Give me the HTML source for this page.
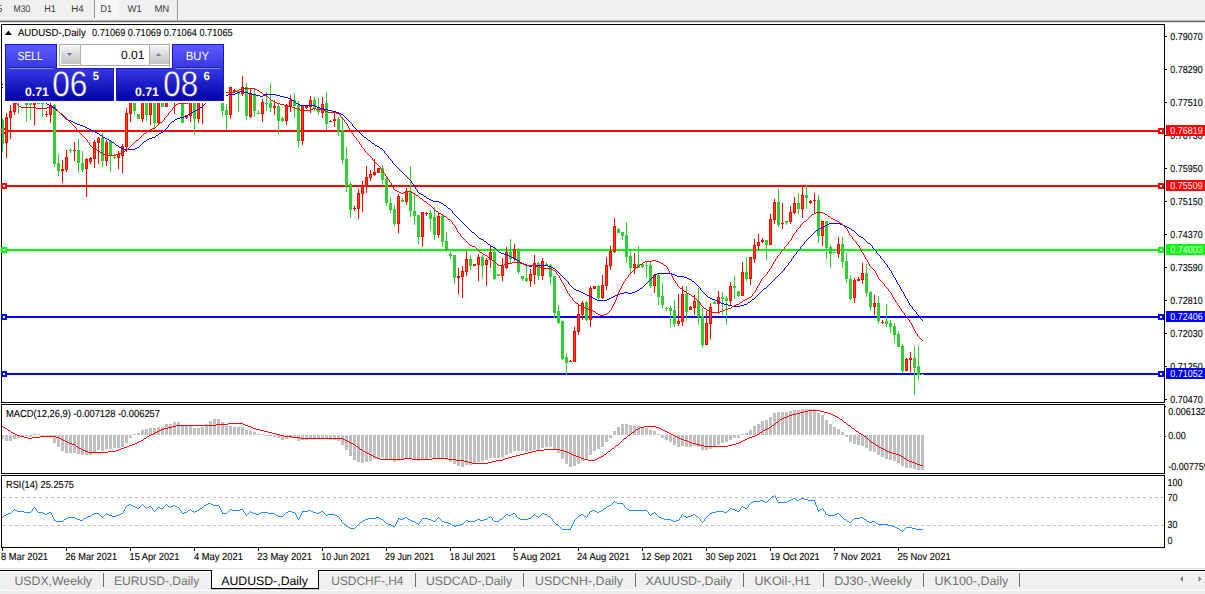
<!DOCTYPE html><html><head><meta charset="utf-8"><title>AUDUSD-,Daily</title><style>
html,body{margin:0;padding:0;background:#fff;}body{width:1205px;height:594px;overflow:hidden;position:relative;font-family:"Liberation Sans", sans-serif;}
svg{position:absolute;left:0;top:0;display:block;}text{font-family:"Liberation Sans", sans-serif;white-space:pre;text-rendering:geometricPrecision;}
</style></head><body>
<svg width="1205" height="594" viewBox="0 0 1205 594">
<defs>
<linearGradient id="gb" x1="0" y1="0" x2="0" y2="1"><stop offset="0" stop-color="#5c5cff"/><stop offset="0.45" stop-color="#3636e0"/><stop offset="1" stop-color="#0000a8"/></linearGradient>
<linearGradient id="gs" x1="0" y1="0" x2="0" y2="1"><stop offset="0" stop-color="#f4f4f4"/><stop offset="0.5" stop-color="#d8d8d8"/><stop offset="1" stop-color="#c4c4c4"/></linearGradient>
<linearGradient id="gbu" gradientUnits="userSpaceOnUse" x1="0" y1="44" x2="0" y2="101"><stop offset="0" stop-color="#5c5cff"/><stop offset="0.45" stop-color="#3636e0"/><stop offset="1" stop-color="#0000a8"/></linearGradient>
<clipPath id="cm"><rect x="2" y="25" width="1162" height="377"/></clipPath>
</defs>
<rect x="0" y="0" width="1205" height="20" fill="#f0f0f0"/>
<rect x="0" y="20" width="1205" height="1" fill="#b4b4b4"/>
<rect x="0" y="21" width="1205" height="1" fill="#707070"/>
<rect x="0" y="22" width="1205" height="1" fill="#d8d8d8"/>
<rect x="95" y="0" width="24" height="18" fill="#f6f6f6"/>
<rect x="94" y="0" width="1" height="18" fill="#8c8c8c"/>
<rect x="177" y="0" width="1" height="20" fill="#909090"/>
<rect x="178" y="0" width="1" height="20" fill="#fafafa"/>
<text x="-3.20" y="11.70" font-size="9.8" fill="#404040" textLength="5.60" lengthAdjust="spacingAndGlyphs" >5</text>
<text x="13.50" y="11.70" font-size="9.8" fill="#404040" textLength="16.80" lengthAdjust="spacingAndGlyphs" >M30</text>
<text x="44.20" y="11.70" font-size="9.8" fill="#404040" textLength="11.60" lengthAdjust="spacingAndGlyphs" >H1</text>
<text x="71.30" y="11.70" font-size="9.8" fill="#404040" textLength="12.40" lengthAdjust="spacingAndGlyphs" >H4</text>
<text x="100.60" y="11.70" font-size="9.8" fill="#404040" textLength="11.40" lengthAdjust="spacingAndGlyphs" >D1</text>
<text x="127.50" y="11.70" font-size="9.8" fill="#404040" textLength="14.30" lengthAdjust="spacingAndGlyphs" >W1</text>
<text x="154.40" y="11.70" font-size="9.8" fill="#404040" textLength="14.90" lengthAdjust="spacingAndGlyphs" >MN</text>
<g shape-rendering="crispEdges">
<rect x="1" y="24" width="1164" height="1" fill="#000"/>
<rect x="1" y="402" width="1164" height="1" fill="#000"/>
<rect x="1" y="24" width="1" height="379" fill="#000"/>
<rect x="1164" y="24" width="1" height="379" fill="#000"/>
<rect x="2" y="130" width="1162" height="2" fill="#ff0000"/>
<rect x="1" y="128" width="6" height="6" fill="#ff0000"/>
<rect x="3" y="130" width="2" height="2" fill="#fff"/>
<rect x="1158" y="128" width="6" height="6" fill="#ff0000"/>
<rect x="1160" y="130" width="2" height="2" fill="#fff"/>
<rect x="2" y="185" width="1162" height="2" fill="#ff0000"/>
<rect x="1" y="183" width="6" height="6" fill="#ff0000"/>
<rect x="3" y="185" width="2" height="2" fill="#fff"/>
<rect x="1158" y="183" width="6" height="6" fill="#ff0000"/>
<rect x="1160" y="185" width="2" height="2" fill="#fff"/>
<rect x="2" y="249" width="1162" height="2" fill="#00ff00"/>
<rect x="1" y="247" width="6" height="6" fill="#00ff00"/>
<rect x="3" y="249" width="2" height="2" fill="#fff"/>
<rect x="1158" y="247" width="6" height="6" fill="#00ff00"/>
<rect x="1160" y="249" width="2" height="2" fill="#fff"/>
<rect x="2" y="316" width="1162" height="2" fill="#0000ff"/>
<rect x="1" y="314" width="6" height="6" fill="#0000ff"/>
<rect x="3" y="316" width="2" height="2" fill="#fff"/>
<rect x="1158" y="314" width="6" height="6" fill="#0000ff"/>
<rect x="1160" y="316" width="2" height="2" fill="#fff"/>
<rect x="2" y="373" width="1162" height="2" fill="#0000ff"/>
<rect x="1" y="371" width="6" height="6" fill="#0000ff"/>
<rect x="3" y="373" width="2" height="2" fill="#fff"/>
<rect x="1158" y="371" width="6" height="6" fill="#0000ff"/>
<rect x="1160" y="373" width="2" height="2" fill="#fff"/>
<g clip-path="url(#cm)">
<rect x="2" y="118" width="1" height="34" fill="#32cd32"/>
<rect x="1" y="120" width="3" height="24" fill="#32cd32"/>
<rect x="6" y="113" width="1" height="45" fill="#ff0000"/>
<rect x="5" y="117" width="3" height="26" fill="#ff0000"/>
<rect x="6" y="118" width="1" height="24" fill="#ff4500"/>
<rect x="10" y="105" width="1" height="34" fill="#ff0000"/>
<rect x="9" y="111" width="3" height="7" fill="#ff0000"/>
<rect x="10" y="112" width="1" height="5" fill="#ff4500"/>
<rect x="14" y="90" width="1" height="25" fill="#ff0000"/>
<rect x="13" y="95" width="3" height="17" fill="#ff0000"/>
<rect x="14" y="96" width="1" height="15" fill="#ff4500"/>
<rect x="18" y="90" width="1" height="24" fill="#32cd32"/>
<rect x="17" y="92" width="3" height="7" fill="#32cd32"/>
<rect x="22" y="90" width="1" height="10" fill="#ff0000"/>
<rect x="21" y="92" width="3" height="5" fill="#ff0000"/>
<rect x="22" y="93" width="1" height="3" fill="#ff4500"/>
<rect x="26" y="95" width="1" height="27" fill="#32cd32"/>
<rect x="25" y="98" width="3" height="7" fill="#32cd32"/>
<rect x="30" y="95" width="1" height="25" fill="#32cd32"/>
<rect x="29" y="98" width="3" height="7" fill="#32cd32"/>
<rect x="34" y="95" width="1" height="30" fill="#ff0000"/>
<rect x="33" y="98" width="3" height="7" fill="#ff0000"/>
<rect x="34" y="99" width="1" height="5" fill="#ff4500"/>
<rect x="38" y="96" width="1" height="8" fill="#32cd32"/>
<rect x="37" y="99" width="3" height="5" fill="#32cd32"/>
<rect x="42" y="98" width="1" height="19" fill="#32cd32"/>
<rect x="41" y="102" width="3" height="2" fill="#32cd32"/>
<rect x="46" y="111" width="1" height="6" fill="#ff0000"/>
<rect x="45" y="114" width="3" height="1" fill="#ff0000"/>
<rect x="50" y="103" width="1" height="20" fill="#ff0000"/>
<rect x="49" y="105" width="3" height="10" fill="#ff0000"/>
<rect x="50" y="106" width="1" height="8" fill="#ff4500"/>
<rect x="54" y="104" width="1" height="63" fill="#32cd32"/>
<rect x="53" y="105" width="3" height="59" fill="#32cd32"/>
<rect x="58" y="154" width="1" height="22" fill="#32cd32"/>
<rect x="57" y="163" width="3" height="8" fill="#32cd32"/>
<rect x="62" y="160" width="1" height="23" fill="#ff0000"/>
<rect x="61" y="169" width="3" height="2" fill="#ff0000"/>
<rect x="66" y="150" width="1" height="22" fill="#ff0000"/>
<rect x="65" y="157" width="3" height="13" fill="#ff0000"/>
<rect x="66" y="158" width="1" height="11" fill="#ff4500"/>
<rect x="70" y="148" width="1" height="5" fill="#32cd32"/>
<rect x="69" y="150" width="3" height="1" fill="#32cd32"/>
<rect x="74" y="142" width="1" height="19" fill="#ff0000"/>
<rect x="73" y="150" width="3" height="1" fill="#ff0000"/>
<rect x="78" y="139" width="1" height="34" fill="#32cd32"/>
<rect x="77" y="150" width="3" height="13" fill="#32cd32"/>
<rect x="82" y="151" width="1" height="21" fill="#32cd32"/>
<rect x="81" y="163" width="3" height="7" fill="#32cd32"/>
<rect x="86" y="158" width="1" height="39" fill="#ff0000"/>
<rect x="85" y="159" width="3" height="10" fill="#ff0000"/>
<rect x="86" y="160" width="1" height="8" fill="#ff4500"/>
<rect x="90" y="157" width="1" height="7" fill="#ff0000"/>
<rect x="89" y="158" width="3" height="4" fill="#ff0000"/>
<rect x="90" y="159" width="1" height="2" fill="#ff4500"/>
<rect x="94" y="140" width="1" height="28" fill="#ff0000"/>
<rect x="93" y="142" width="3" height="17" fill="#ff0000"/>
<rect x="94" y="143" width="1" height="15" fill="#ff4500"/>
<rect x="98" y="137" width="1" height="27" fill="#ff0000"/>
<rect x="97" y="138" width="3" height="5" fill="#ff0000"/>
<rect x="98" y="139" width="1" height="3" fill="#ff4500"/>
<rect x="102" y="133" width="1" height="34" fill="#32cd32"/>
<rect x="101" y="138" width="3" height="23" fill="#32cd32"/>
<rect x="106" y="140" width="1" height="26" fill="#ff0000"/>
<rect x="105" y="142" width="3" height="19" fill="#ff0000"/>
<rect x="106" y="143" width="1" height="17" fill="#ff4500"/>
<rect x="110" y="140" width="1" height="32" fill="#32cd32"/>
<rect x="109" y="141" width="3" height="15" fill="#32cd32"/>
<rect x="114" y="154" width="1" height="5" fill="#32cd32"/>
<rect x="113" y="157" width="3" height="1" fill="#32cd32"/>
<rect x="118" y="151" width="1" height="18" fill="#ff0000"/>
<rect x="117" y="154" width="3" height="4" fill="#ff0000"/>
<rect x="118" y="155" width="1" height="2" fill="#ff4500"/>
<rect x="122" y="144" width="1" height="29" fill="#ff0000"/>
<rect x="121" y="146" width="3" height="10" fill="#ff0000"/>
<rect x="122" y="147" width="1" height="8" fill="#ff4500"/>
<rect x="126" y="108" width="1" height="44" fill="#ff0000"/>
<rect x="125" y="113" width="3" height="34" fill="#ff0000"/>
<rect x="126" y="114" width="1" height="32" fill="#ff4500"/>
<rect x="130" y="95" width="1" height="27" fill="#ff0000"/>
<rect x="129" y="97" width="3" height="17" fill="#ff0000"/>
<rect x="130" y="98" width="1" height="15" fill="#ff4500"/>
<rect x="134" y="95" width="1" height="20" fill="#32cd32"/>
<rect x="133" y="97" width="3" height="14" fill="#32cd32"/>
<rect x="138" y="114" width="1" height="5" fill="#32cd32"/>
<rect x="137" y="114" width="3" height="5" fill="#32cd32"/>
<rect x="142" y="95" width="1" height="27" fill="#ff0000"/>
<rect x="141" y="97" width="3" height="22" fill="#ff0000"/>
<rect x="142" y="98" width="1" height="20" fill="#ff4500"/>
<rect x="146" y="95" width="1" height="26" fill="#32cd32"/>
<rect x="145" y="97" width="3" height="18" fill="#32cd32"/>
<rect x="150" y="95" width="1" height="30" fill="#ff0000"/>
<rect x="149" y="97" width="3" height="18" fill="#ff0000"/>
<rect x="150" y="98" width="1" height="16" fill="#ff4500"/>
<rect x="154" y="95" width="1" height="34" fill="#32cd32"/>
<rect x="153" y="97" width="3" height="26" fill="#32cd32"/>
<rect x="158" y="95" width="1" height="29" fill="#ff0000"/>
<rect x="157" y="97" width="3" height="26" fill="#ff0000"/>
<rect x="158" y="98" width="1" height="24" fill="#ff4500"/>
<rect x="162" y="95" width="1" height="12" fill="#32cd32"/>
<rect x="161" y="97" width="3" height="10" fill="#32cd32"/>
<rect x="166" y="95" width="1" height="12" fill="#ff0000"/>
<rect x="165" y="97" width="3" height="10" fill="#ff0000"/>
<rect x="166" y="98" width="1" height="8" fill="#ff4500"/>
<rect x="170" y="95" width="1" height="5" fill="#32cd32"/>
<rect x="169" y="96" width="3" height="3" fill="#32cd32"/>
<rect x="174" y="95" width="1" height="19" fill="#ff0000"/>
<rect x="173" y="96" width="3" height="2" fill="#ff0000"/>
<rect x="178" y="95" width="1" height="5" fill="#32cd32"/>
<rect x="177" y="96" width="3" height="3" fill="#32cd32"/>
<rect x="182" y="95" width="1" height="28" fill="#32cd32"/>
<rect x="181" y="97" width="3" height="26" fill="#32cd32"/>
<rect x="186" y="115" width="1" height="4" fill="#ff0000"/>
<rect x="185" y="115" width="3" height="3" fill="#ff0000"/>
<rect x="186" y="116" width="1" height="1" fill="#ff4500"/>
<rect x="190" y="95" width="1" height="27" fill="#ff0000"/>
<rect x="189" y="97" width="3" height="19" fill="#ff0000"/>
<rect x="190" y="98" width="1" height="17" fill="#ff4500"/>
<rect x="194" y="95" width="1" height="40" fill="#32cd32"/>
<rect x="193" y="97" width="3" height="22" fill="#32cd32"/>
<rect x="198" y="95" width="1" height="28" fill="#ff0000"/>
<rect x="197" y="97" width="3" height="22" fill="#ff0000"/>
<rect x="198" y="98" width="1" height="20" fill="#ff4500"/>
<rect x="202" y="95" width="1" height="29" fill="#ff0000"/>
<rect x="201" y="96" width="3" height="2" fill="#ff0000"/>
<rect x="206" y="90" width="1" height="10" fill="#32cd32"/>
<rect x="205" y="92" width="3" height="6" fill="#32cd32"/>
<rect x="210" y="90" width="1" height="10" fill="#ff0000"/>
<rect x="209" y="92" width="3" height="6" fill="#ff0000"/>
<rect x="210" y="93" width="1" height="4" fill="#ff4500"/>
<rect x="214" y="90" width="1" height="10" fill="#32cd32"/>
<rect x="213" y="92" width="3" height="6" fill="#32cd32"/>
<rect x="218" y="90" width="1" height="10" fill="#32cd32"/>
<rect x="217" y="92" width="3" height="6" fill="#32cd32"/>
<rect x="222" y="101" width="1" height="16" fill="#32cd32"/>
<rect x="221" y="103" width="3" height="8" fill="#32cd32"/>
<rect x="226" y="104" width="1" height="26" fill="#32cd32"/>
<rect x="225" y="110" width="3" height="5" fill="#32cd32"/>
<rect x="230" y="87" width="1" height="32" fill="#ff0000"/>
<rect x="229" y="87" width="3" height="28" fill="#ff0000"/>
<rect x="230" y="88" width="1" height="26" fill="#ff4500"/>
<rect x="234" y="89" width="1" height="3" fill="#ff0000"/>
<rect x="233" y="90" width="3" height="2" fill="#ff0000"/>
<rect x="238" y="90" width="1" height="22" fill="#32cd32"/>
<rect x="237" y="91" width="3" height="3" fill="#32cd32"/>
<rect x="242" y="76" width="1" height="20" fill="#ff0000"/>
<rect x="241" y="87" width="3" height="7" fill="#ff0000"/>
<rect x="242" y="88" width="1" height="5" fill="#ff4500"/>
<rect x="246" y="83" width="1" height="37" fill="#32cd32"/>
<rect x="245" y="87" width="3" height="29" fill="#32cd32"/>
<rect x="250" y="88" width="1" height="30" fill="#ff0000"/>
<rect x="249" y="94" width="3" height="23" fill="#ff0000"/>
<rect x="250" y="95" width="1" height="21" fill="#ff4500"/>
<rect x="254" y="89" width="1" height="28" fill="#32cd32"/>
<rect x="253" y="94" width="3" height="17" fill="#32cd32"/>
<rect x="258" y="110" width="1" height="4" fill="#32cd32"/>
<rect x="257" y="113" width="3" height="1" fill="#32cd32"/>
<rect x="262" y="99" width="1" height="23" fill="#ff0000"/>
<rect x="261" y="102" width="3" height="12" fill="#ff0000"/>
<rect x="262" y="103" width="1" height="10" fill="#ff4500"/>
<rect x="266" y="92" width="1" height="19" fill="#32cd32"/>
<rect x="265" y="103" width="3" height="1" fill="#32cd32"/>
<rect x="270" y="83" width="1" height="29" fill="#32cd32"/>
<rect x="269" y="103" width="3" height="5" fill="#32cd32"/>
<rect x="274" y="100" width="1" height="15" fill="#ff0000"/>
<rect x="273" y="106" width="3" height="2" fill="#ff0000"/>
<rect x="278" y="104" width="1" height="30" fill="#32cd32"/>
<rect x="277" y="106" width="3" height="15" fill="#32cd32"/>
<rect x="282" y="117" width="1" height="5" fill="#32cd32"/>
<rect x="281" y="118" width="3" height="3" fill="#32cd32"/>
<rect x="286" y="104" width="1" height="21" fill="#ff0000"/>
<rect x="285" y="105" width="3" height="16" fill="#ff0000"/>
<rect x="286" y="106" width="1" height="14" fill="#ff4500"/>
<rect x="290" y="95" width="1" height="17" fill="#ff0000"/>
<rect x="289" y="100" width="3" height="7" fill="#ff0000"/>
<rect x="290" y="101" width="1" height="5" fill="#ff4500"/>
<rect x="294" y="93" width="1" height="25" fill="#32cd32"/>
<rect x="293" y="100" width="3" height="6" fill="#32cd32"/>
<rect x="298" y="101" width="1" height="47" fill="#32cd32"/>
<rect x="297" y="105" width="3" height="36" fill="#32cd32"/>
<rect x="302" y="105" width="1" height="40" fill="#ff0000"/>
<rect x="301" y="105" width="3" height="36" fill="#ff0000"/>
<rect x="302" y="106" width="1" height="34" fill="#ff4500"/>
<rect x="306" y="106" width="1" height="3" fill="#ff0000"/>
<rect x="305" y="106" width="3" height="2" fill="#ff0000"/>
<rect x="310" y="96" width="1" height="17" fill="#ff0000"/>
<rect x="309" y="100" width="3" height="7" fill="#ff0000"/>
<rect x="310" y="101" width="1" height="5" fill="#ff4500"/>
<rect x="314" y="97" width="1" height="14" fill="#32cd32"/>
<rect x="313" y="100" width="3" height="9" fill="#32cd32"/>
<rect x="318" y="98" width="1" height="17" fill="#32cd32"/>
<rect x="317" y="108" width="3" height="4" fill="#32cd32"/>
<rect x="322" y="97" width="1" height="21" fill="#ff0000"/>
<rect x="321" y="104" width="3" height="9" fill="#ff0000"/>
<rect x="322" y="105" width="1" height="7" fill="#ff4500"/>
<rect x="326" y="92" width="1" height="38" fill="#32cd32"/>
<rect x="325" y="103" width="3" height="21" fill="#32cd32"/>
<rect x="330" y="120" width="1" height="2" fill="#ff0000"/>
<rect x="329" y="121" width="3" height="1" fill="#ff0000"/>
<rect x="334" y="112" width="1" height="15" fill="#ff0000"/>
<rect x="333" y="119" width="3" height="2" fill="#ff0000"/>
<rect x="338" y="117" width="1" height="19" fill="#32cd32"/>
<rect x="337" y="119" width="3" height="12" fill="#32cd32"/>
<rect x="342" y="117" width="1" height="47" fill="#32cd32"/>
<rect x="341" y="130" width="3" height="30" fill="#32cd32"/>
<rect x="346" y="147" width="1" height="45" fill="#32cd32"/>
<rect x="345" y="159" width="3" height="27" fill="#32cd32"/>
<rect x="350" y="182" width="1" height="36" fill="#32cd32"/>
<rect x="349" y="184" width="3" height="26" fill="#32cd32"/>
<rect x="354" y="206" width="1" height="5" fill="#ff0000"/>
<rect x="353" y="208" width="3" height="1" fill="#ff0000"/>
<rect x="358" y="189" width="1" height="30" fill="#ff0000"/>
<rect x="357" y="193" width="3" height="16" fill="#ff0000"/>
<rect x="358" y="194" width="1" height="14" fill="#ff4500"/>
<rect x="362" y="181" width="1" height="31" fill="#ff0000"/>
<rect x="361" y="186" width="3" height="8" fill="#ff0000"/>
<rect x="362" y="187" width="1" height="6" fill="#ff4500"/>
<rect x="366" y="166" width="1" height="27" fill="#ff0000"/>
<rect x="365" y="177" width="3" height="9" fill="#ff0000"/>
<rect x="366" y="178" width="1" height="7" fill="#ff4500"/>
<rect x="370" y="170" width="1" height="11" fill="#ff0000"/>
<rect x="369" y="174" width="3" height="4" fill="#ff0000"/>
<rect x="370" y="175" width="1" height="2" fill="#ff4500"/>
<rect x="374" y="159" width="1" height="17" fill="#ff0000"/>
<rect x="373" y="172" width="3" height="3" fill="#ff0000"/>
<rect x="374" y="173" width="1" height="1" fill="#ff4500"/>
<rect x="378" y="168" width="1" height="5" fill="#ff0000"/>
<rect x="377" y="168" width="3" height="5" fill="#ff0000"/>
<rect x="378" y="169" width="1" height="3" fill="#ff4500"/>
<rect x="382" y="165" width="1" height="21" fill="#32cd32"/>
<rect x="381" y="168" width="3" height="12" fill="#32cd32"/>
<rect x="386" y="177" width="1" height="29" fill="#32cd32"/>
<rect x="385" y="179" width="3" height="24" fill="#32cd32"/>
<rect x="390" y="197" width="1" height="16" fill="#32cd32"/>
<rect x="389" y="203" width="3" height="7" fill="#32cd32"/>
<rect x="394" y="205" width="1" height="21" fill="#32cd32"/>
<rect x="393" y="209" width="3" height="15" fill="#32cd32"/>
<rect x="398" y="194" width="1" height="39" fill="#ff0000"/>
<rect x="397" y="196" width="3" height="28" fill="#ff0000"/>
<rect x="398" y="197" width="1" height="26" fill="#ff4500"/>
<rect x="402" y="198" width="1" height="4" fill="#32cd32"/>
<rect x="401" y="200" width="3" height="2" fill="#32cd32"/>
<rect x="406" y="188" width="1" height="17" fill="#ff0000"/>
<rect x="405" y="191" width="3" height="11" fill="#ff0000"/>
<rect x="406" y="192" width="1" height="9" fill="#ff4500"/>
<rect x="410" y="166" width="1" height="51" fill="#32cd32"/>
<rect x="409" y="191" width="3" height="20" fill="#32cd32"/>
<rect x="414" y="194" width="1" height="31" fill="#32cd32"/>
<rect x="413" y="211" width="3" height="5" fill="#32cd32"/>
<rect x="418" y="215" width="1" height="29" fill="#32cd32"/>
<rect x="417" y="215" width="3" height="22" fill="#32cd32"/>
<rect x="422" y="212" width="1" height="35" fill="#ff0000"/>
<rect x="421" y="212" width="3" height="25" fill="#ff0000"/>
<rect x="422" y="213" width="1" height="23" fill="#ff4500"/>
<rect x="426" y="212" width="1" height="4" fill="#ff0000"/>
<rect x="425" y="213" width="3" height="1" fill="#ff0000"/>
<rect x="430" y="210" width="1" height="21" fill="#32cd32"/>
<rect x="429" y="213" width="3" height="6" fill="#32cd32"/>
<rect x="434" y="207" width="1" height="33" fill="#32cd32"/>
<rect x="433" y="217" width="3" height="18" fill="#32cd32"/>
<rect x="438" y="213" width="1" height="25" fill="#ff0000"/>
<rect x="437" y="216" width="3" height="19" fill="#ff0000"/>
<rect x="438" y="217" width="1" height="17" fill="#ff4500"/>
<rect x="442" y="215" width="1" height="32" fill="#32cd32"/>
<rect x="441" y="216" width="3" height="26" fill="#32cd32"/>
<rect x="446" y="232" width="1" height="20" fill="#32cd32"/>
<rect x="445" y="241" width="3" height="10" fill="#32cd32"/>
<rect x="450" y="252" width="1" height="7" fill="#32cd32"/>
<rect x="449" y="254" width="3" height="2" fill="#32cd32"/>
<rect x="454" y="255" width="1" height="29" fill="#32cd32"/>
<rect x="453" y="255" width="3" height="23" fill="#32cd32"/>
<rect x="458" y="268" width="1" height="26" fill="#ff0000"/>
<rect x="457" y="276" width="3" height="2" fill="#ff0000"/>
<rect x="462" y="266" width="1" height="32" fill="#ff0000"/>
<rect x="461" y="271" width="3" height="6" fill="#ff0000"/>
<rect x="462" y="272" width="1" height="4" fill="#ff4500"/>
<rect x="466" y="251" width="1" height="25" fill="#ff0000"/>
<rect x="465" y="259" width="3" height="13" fill="#ff0000"/>
<rect x="466" y="260" width="1" height="11" fill="#ff4500"/>
<rect x="470" y="255" width="1" height="15" fill="#32cd32"/>
<rect x="469" y="259" width="3" height="7" fill="#32cd32"/>
<rect x="474" y="264" width="1" height="2" fill="#ff0000"/>
<rect x="473" y="264" width="3" height="2" fill="#ff0000"/>
<rect x="478" y="254" width="1" height="27" fill="#ff0000"/>
<rect x="477" y="257" width="3" height="8" fill="#ff0000"/>
<rect x="478" y="258" width="1" height="6" fill="#ff4500"/>
<rect x="482" y="255" width="1" height="23" fill="#32cd32"/>
<rect x="481" y="257" width="3" height="9" fill="#32cd32"/>
<rect x="486" y="258" width="1" height="28" fill="#ff0000"/>
<rect x="485" y="260" width="3" height="5" fill="#ff0000"/>
<rect x="486" y="261" width="1" height="3" fill="#ff4500"/>
<rect x="490" y="245" width="1" height="23" fill="#ff0000"/>
<rect x="489" y="252" width="3" height="8" fill="#ff0000"/>
<rect x="490" y="253" width="1" height="6" fill="#ff4500"/>
<rect x="494" y="248" width="1" height="32" fill="#32cd32"/>
<rect x="493" y="252" width="3" height="27" fill="#32cd32"/>
<rect x="498" y="274" width="1" height="2" fill="#32cd32"/>
<rect x="497" y="274" width="3" height="2" fill="#32cd32"/>
<rect x="502" y="258" width="1" height="23" fill="#ff0000"/>
<rect x="501" y="266" width="3" height="10" fill="#ff0000"/>
<rect x="502" y="267" width="1" height="8" fill="#ff4500"/>
<rect x="506" y="247" width="1" height="22" fill="#ff0000"/>
<rect x="505" y="252" width="3" height="16" fill="#ff0000"/>
<rect x="506" y="253" width="1" height="14" fill="#ff4500"/>
<rect x="510" y="239" width="1" height="25" fill="#32cd32"/>
<rect x="509" y="252" width="3" height="7" fill="#32cd32"/>
<rect x="514" y="244" width="1" height="17" fill="#ff0000"/>
<rect x="513" y="249" width="3" height="10" fill="#ff0000"/>
<rect x="514" y="250" width="1" height="8" fill="#ff4500"/>
<rect x="518" y="248" width="1" height="26" fill="#32cd32"/>
<rect x="517" y="249" width="3" height="23" fill="#32cd32"/>
<rect x="522" y="276" width="1" height="5" fill="#32cd32"/>
<rect x="521" y="276" width="3" height="3" fill="#32cd32"/>
<rect x="526" y="266" width="1" height="16" fill="#32cd32"/>
<rect x="525" y="278" width="3" height="3" fill="#32cd32"/>
<rect x="530" y="269" width="1" height="18" fill="#ff0000"/>
<rect x="529" y="274" width="3" height="7" fill="#ff0000"/>
<rect x="530" y="275" width="1" height="5" fill="#ff4500"/>
<rect x="534" y="255" width="1" height="29" fill="#ff0000"/>
<rect x="533" y="263" width="3" height="12" fill="#ff0000"/>
<rect x="534" y="264" width="1" height="10" fill="#ff4500"/>
<rect x="538" y="262" width="1" height="18" fill="#32cd32"/>
<rect x="537" y="263" width="3" height="13" fill="#32cd32"/>
<rect x="542" y="258" width="1" height="22" fill="#ff0000"/>
<rect x="541" y="261" width="3" height="15" fill="#ff0000"/>
<rect x="542" y="262" width="1" height="13" fill="#ff4500"/>
<rect x="546" y="262" width="1" height="4" fill="#32cd32"/>
<rect x="545" y="264" width="3" height="2" fill="#32cd32"/>
<rect x="550" y="264" width="1" height="21" fill="#32cd32"/>
<rect x="549" y="265" width="3" height="12" fill="#32cd32"/>
<rect x="554" y="276" width="1" height="42" fill="#32cd32"/>
<rect x="553" y="276" width="3" height="37" fill="#32cd32"/>
<rect x="558" y="305" width="1" height="19" fill="#32cd32"/>
<rect x="557" y="311" width="3" height="12" fill="#32cd32"/>
<rect x="562" y="321" width="1" height="39" fill="#32cd32"/>
<rect x="561" y="321" width="3" height="38" fill="#32cd32"/>
<rect x="566" y="353" width="1" height="22" fill="#32cd32"/>
<rect x="565" y="357" width="3" height="6" fill="#32cd32"/>
<rect x="570" y="360" width="1" height="2" fill="#ff0000"/>
<rect x="569" y="361" width="3" height="1" fill="#ff0000"/>
<rect x="574" y="327" width="1" height="35" fill="#ff0000"/>
<rect x="573" y="331" width="3" height="31" fill="#ff0000"/>
<rect x="574" y="332" width="1" height="29" fill="#ff4500"/>
<rect x="578" y="304" width="1" height="31" fill="#ff0000"/>
<rect x="577" y="314" width="3" height="18" fill="#ff0000"/>
<rect x="578" y="315" width="1" height="16" fill="#ff4500"/>
<rect x="582" y="301" width="1" height="19" fill="#ff0000"/>
<rect x="581" y="303" width="3" height="12" fill="#ff0000"/>
<rect x="582" y="304" width="1" height="10" fill="#ff4500"/>
<rect x="586" y="301" width="1" height="20" fill="#32cd32"/>
<rect x="585" y="302" width="3" height="18" fill="#32cd32"/>
<rect x="590" y="286" width="1" height="41" fill="#ff0000"/>
<rect x="589" y="288" width="3" height="32" fill="#ff0000"/>
<rect x="590" y="289" width="1" height="30" fill="#ff4500"/>
<rect x="594" y="286" width="1" height="3" fill="#ff0000"/>
<rect x="593" y="286" width="3" height="3" fill="#ff0000"/>
<rect x="594" y="287" width="1" height="1" fill="#ff4500"/>
<rect x="598" y="285" width="1" height="15" fill="#32cd32"/>
<rect x="597" y="286" width="3" height="12" fill="#32cd32"/>
<rect x="602" y="275" width="1" height="24" fill="#ff0000"/>
<rect x="601" y="285" width="3" height="13" fill="#ff0000"/>
<rect x="602" y="286" width="1" height="11" fill="#ff4500"/>
<rect x="606" y="257" width="1" height="33" fill="#ff0000"/>
<rect x="605" y="265" width="3" height="21" fill="#ff0000"/>
<rect x="606" y="266" width="1" height="19" fill="#ff4500"/>
<rect x="610" y="246" width="1" height="24" fill="#ff0000"/>
<rect x="609" y="251" width="3" height="15" fill="#ff0000"/>
<rect x="610" y="252" width="1" height="13" fill="#ff4500"/>
<rect x="614" y="218" width="1" height="35" fill="#ff0000"/>
<rect x="613" y="226" width="3" height="26" fill="#ff0000"/>
<rect x="614" y="227" width="1" height="24" fill="#ff4500"/>
<rect x="618" y="228" width="1" height="5" fill="#32cd32"/>
<rect x="617" y="229" width="3" height="4" fill="#32cd32"/>
<rect x="622" y="232" width="1" height="8" fill="#32cd32"/>
<rect x="621" y="232" width="3" height="4" fill="#32cd32"/>
<rect x="626" y="222" width="1" height="41" fill="#32cd32"/>
<rect x="625" y="235" width="3" height="22" fill="#32cd32"/>
<rect x="630" y="249" width="1" height="26" fill="#32cd32"/>
<rect x="629" y="256" width="3" height="12" fill="#32cd32"/>
<rect x="634" y="253" width="1" height="21" fill="#ff0000"/>
<rect x="633" y="264" width="3" height="4" fill="#ff0000"/>
<rect x="634" y="265" width="1" height="2" fill="#ff4500"/>
<rect x="638" y="246" width="1" height="22" fill="#32cd32"/>
<rect x="637" y="264" width="3" height="4" fill="#32cd32"/>
<rect x="642" y="264" width="1" height="4" fill="#32cd32"/>
<rect x="641" y="264" width="3" height="3" fill="#32cd32"/>
<rect x="646" y="261" width="1" height="17" fill="#32cd32"/>
<rect x="645" y="265" width="3" height="1" fill="#32cd32"/>
<rect x="650" y="262" width="1" height="26" fill="#32cd32"/>
<rect x="649" y="265" width="3" height="21" fill="#32cd32"/>
<rect x="654" y="274" width="1" height="19" fill="#ff0000"/>
<rect x="653" y="275" width="3" height="11" fill="#ff0000"/>
<rect x="654" y="276" width="1" height="9" fill="#ff4500"/>
<rect x="658" y="273" width="1" height="32" fill="#32cd32"/>
<rect x="657" y="275" width="3" height="22" fill="#32cd32"/>
<rect x="662" y="283" width="1" height="25" fill="#32cd32"/>
<rect x="661" y="296" width="3" height="9" fill="#32cd32"/>
<rect x="666" y="307" width="1" height="4" fill="#32cd32"/>
<rect x="665" y="308" width="3" height="1" fill="#32cd32"/>
<rect x="670" y="306" width="1" height="21" fill="#32cd32"/>
<rect x="669" y="308" width="3" height="3" fill="#32cd32"/>
<rect x="674" y="300" width="1" height="27" fill="#32cd32"/>
<rect x="673" y="310" width="3" height="14" fill="#32cd32"/>
<rect x="678" y="294" width="1" height="32" fill="#ff0000"/>
<rect x="677" y="321" width="3" height="3" fill="#ff0000"/>
<rect x="678" y="322" width="1" height="1" fill="#ff4500"/>
<rect x="682" y="286" width="1" height="40" fill="#ff0000"/>
<rect x="681" y="294" width="3" height="28" fill="#ff0000"/>
<rect x="682" y="295" width="1" height="26" fill="#ff4500"/>
<rect x="686" y="286" width="1" height="35" fill="#32cd32"/>
<rect x="685" y="294" width="3" height="18" fill="#32cd32"/>
<rect x="690" y="306" width="1" height="4" fill="#ff0000"/>
<rect x="689" y="307" width="3" height="3" fill="#ff0000"/>
<rect x="690" y="308" width="1" height="1" fill="#ff4500"/>
<rect x="694" y="295" width="1" height="20" fill="#ff0000"/>
<rect x="693" y="301" width="3" height="7" fill="#ff0000"/>
<rect x="694" y="302" width="1" height="5" fill="#ff4500"/>
<rect x="698" y="288" width="1" height="37" fill="#32cd32"/>
<rect x="697" y="301" width="3" height="16" fill="#32cd32"/>
<rect x="702" y="308" width="1" height="40" fill="#32cd32"/>
<rect x="701" y="316" width="3" height="29" fill="#32cd32"/>
<rect x="706" y="311" width="1" height="34" fill="#ff0000"/>
<rect x="705" y="323" width="3" height="22" fill="#ff0000"/>
<rect x="706" y="324" width="1" height="20" fill="#ff4500"/>
<rect x="710" y="303" width="1" height="36" fill="#ff0000"/>
<rect x="709" y="307" width="3" height="17" fill="#ff0000"/>
<rect x="710" y="308" width="1" height="15" fill="#ff4500"/>
<rect x="714" y="301" width="1" height="3" fill="#32cd32"/>
<rect x="713" y="302" width="3" height="2" fill="#32cd32"/>
<rect x="718" y="291" width="1" height="23" fill="#ff0000"/>
<rect x="717" y="297" width="3" height="7" fill="#ff0000"/>
<rect x="718" y="298" width="1" height="5" fill="#ff4500"/>
<rect x="722" y="292" width="1" height="23" fill="#32cd32"/>
<rect x="721" y="297" width="3" height="2" fill="#32cd32"/>
<rect x="726" y="296" width="1" height="29" fill="#32cd32"/>
<rect x="725" y="298" width="3" height="3" fill="#32cd32"/>
<rect x="730" y="282" width="1" height="24" fill="#ff0000"/>
<rect x="729" y="286" width="3" height="15" fill="#ff0000"/>
<rect x="730" y="287" width="1" height="13" fill="#ff4500"/>
<rect x="734" y="276" width="1" height="23" fill="#32cd32"/>
<rect x="733" y="286" width="3" height="2" fill="#32cd32"/>
<rect x="738" y="291" width="1" height="6" fill="#32cd32"/>
<rect x="737" y="291" width="3" height="5" fill="#32cd32"/>
<rect x="742" y="262" width="1" height="34" fill="#ff0000"/>
<rect x="741" y="272" width="3" height="24" fill="#ff0000"/>
<rect x="742" y="273" width="1" height="22" fill="#ff4500"/>
<rect x="746" y="257" width="1" height="24" fill="#32cd32"/>
<rect x="745" y="272" width="3" height="7" fill="#32cd32"/>
<rect x="750" y="257" width="1" height="28" fill="#ff0000"/>
<rect x="749" y="257" width="3" height="22" fill="#ff0000"/>
<rect x="750" y="258" width="1" height="20" fill="#ff4500"/>
<rect x="754" y="239" width="1" height="24" fill="#ff0000"/>
<rect x="753" y="245" width="3" height="14" fill="#ff0000"/>
<rect x="754" y="246" width="1" height="12" fill="#ff4500"/>
<rect x="758" y="234" width="1" height="16" fill="#ff0000"/>
<rect x="757" y="242" width="3" height="4" fill="#ff0000"/>
<rect x="758" y="243" width="1" height="2" fill="#ff4500"/>
<rect x="762" y="238" width="1" height="5" fill="#ff0000"/>
<rect x="761" y="240" width="3" height="2" fill="#ff0000"/>
<rect x="766" y="240" width="1" height="20" fill="#32cd32"/>
<rect x="765" y="240" width="3" height="5" fill="#32cd32"/>
<rect x="770" y="214" width="1" height="31" fill="#ff0000"/>
<rect x="769" y="219" width="3" height="26" fill="#ff0000"/>
<rect x="770" y="220" width="1" height="24" fill="#ff4500"/>
<rect x="774" y="199" width="1" height="25" fill="#ff0000"/>
<rect x="773" y="202" width="3" height="18" fill="#ff0000"/>
<rect x="774" y="203" width="1" height="16" fill="#ff4500"/>
<rect x="778" y="189" width="1" height="38" fill="#32cd32"/>
<rect x="777" y="202" width="3" height="23" fill="#32cd32"/>
<rect x="782" y="203" width="1" height="26" fill="#ff0000"/>
<rect x="781" y="223" width="3" height="1" fill="#ff0000"/>
<rect x="786" y="221" width="1" height="4" fill="#32cd32"/>
<rect x="785" y="221" width="3" height="2" fill="#32cd32"/>
<rect x="790" y="206" width="1" height="18" fill="#ff0000"/>
<rect x="789" y="212" width="3" height="10" fill="#ff0000"/>
<rect x="790" y="213" width="1" height="8" fill="#ff4500"/>
<rect x="794" y="197" width="1" height="17" fill="#ff0000"/>
<rect x="793" y="203" width="3" height="10" fill="#ff0000"/>
<rect x="794" y="204" width="1" height="8" fill="#ff4500"/>
<rect x="798" y="193" width="1" height="21" fill="#32cd32"/>
<rect x="797" y="203" width="3" height="6" fill="#32cd32"/>
<rect x="802" y="186" width="1" height="32" fill="#ff0000"/>
<rect x="801" y="195" width="3" height="14" fill="#ff0000"/>
<rect x="802" y="196" width="1" height="12" fill="#ff4500"/>
<rect x="806" y="185" width="1" height="24" fill="#32cd32"/>
<rect x="805" y="195" width="3" height="3" fill="#32cd32"/>
<rect x="810" y="200" width="1" height="4" fill="#ff0000"/>
<rect x="809" y="201" width="3" height="2" fill="#ff0000"/>
<rect x="814" y="193" width="1" height="21" fill="#ff0000"/>
<rect x="813" y="200" width="3" height="1" fill="#ff0000"/>
<rect x="818" y="195" width="1" height="48" fill="#32cd32"/>
<rect x="817" y="200" width="3" height="36" fill="#32cd32"/>
<rect x="822" y="221" width="1" height="25" fill="#ff0000"/>
<rect x="821" y="221" width="3" height="15" fill="#ff0000"/>
<rect x="822" y="222" width="1" height="13" fill="#ff4500"/>
<rect x="826" y="221" width="1" height="38" fill="#32cd32"/>
<rect x="825" y="221" width="3" height="27" fill="#32cd32"/>
<rect x="830" y="245" width="1" height="23" fill="#32cd32"/>
<rect x="829" y="247" width="3" height="7" fill="#32cd32"/>
<rect x="834" y="250" width="1" height="3" fill="#32cd32"/>
<rect x="833" y="252" width="3" height="1" fill="#32cd32"/>
<rect x="838" y="237" width="1" height="21" fill="#ff0000"/>
<rect x="837" y="244" width="3" height="10" fill="#ff0000"/>
<rect x="838" y="245" width="1" height="8" fill="#ff4500"/>
<rect x="842" y="237" width="1" height="31" fill="#32cd32"/>
<rect x="841" y="244" width="3" height="18" fill="#32cd32"/>
<rect x="846" y="253" width="1" height="30" fill="#32cd32"/>
<rect x="845" y="261" width="3" height="18" fill="#32cd32"/>
<rect x="850" y="275" width="1" height="25" fill="#32cd32"/>
<rect x="849" y="279" width="3" height="20" fill="#32cd32"/>
<rect x="854" y="278" width="1" height="25" fill="#ff0000"/>
<rect x="853" y="280" width="3" height="18" fill="#ff0000"/>
<rect x="854" y="281" width="1" height="16" fill="#ff4500"/>
<rect x="858" y="277" width="1" height="4" fill="#ff0000"/>
<rect x="857" y="279" width="3" height="2" fill="#ff0000"/>
<rect x="862" y="263" width="1" height="21" fill="#ff0000"/>
<rect x="861" y="273" width="3" height="7" fill="#ff0000"/>
<rect x="862" y="274" width="1" height="5" fill="#ff4500"/>
<rect x="866" y="264" width="1" height="33" fill="#32cd32"/>
<rect x="865" y="273" width="3" height="20" fill="#32cd32"/>
<rect x="870" y="291" width="1" height="20" fill="#32cd32"/>
<rect x="869" y="292" width="3" height="15" fill="#32cd32"/>
<rect x="874" y="295" width="1" height="20" fill="#ff0000"/>
<rect x="873" y="303" width="3" height="4" fill="#ff0000"/>
<rect x="874" y="304" width="1" height="2" fill="#ff4500"/>
<rect x="878" y="296" width="1" height="28" fill="#32cd32"/>
<rect x="877" y="303" width="3" height="18" fill="#32cd32"/>
<rect x="882" y="320" width="1" height="4" fill="#ff0000"/>
<rect x="881" y="322" width="3" height="1" fill="#ff0000"/>
<rect x="886" y="304" width="1" height="23" fill="#32cd32"/>
<rect x="885" y="321" width="3" height="3" fill="#32cd32"/>
<rect x="890" y="320" width="1" height="13" fill="#32cd32"/>
<rect x="889" y="323" width="3" height="4" fill="#32cd32"/>
<rect x="894" y="323" width="1" height="20" fill="#32cd32"/>
<rect x="893" y="326" width="3" height="9" fill="#32cd32"/>
<rect x="898" y="331" width="1" height="16" fill="#32cd32"/>
<rect x="897" y="334" width="3" height="13" fill="#32cd32"/>
<rect x="902" y="344" width="1" height="29" fill="#32cd32"/>
<rect x="901" y="346" width="3" height="25" fill="#32cd32"/>
<rect x="906" y="358" width="1" height="13" fill="#ff0000"/>
<rect x="905" y="359" width="3" height="12" fill="#ff0000"/>
<rect x="906" y="360" width="1" height="10" fill="#ff4500"/>
<rect x="910" y="352" width="1" height="20" fill="#ff0000"/>
<rect x="909" y="358" width="3" height="2" fill="#ff0000"/>
<rect x="914" y="347" width="1" height="48" fill="#32cd32"/>
<rect x="913" y="358" width="3" height="10" fill="#32cd32"/>
<rect x="918" y="346" width="1" height="34" fill="#32cd32"/>
<rect x="917" y="366" width="3" height="9" fill="#32cd32"/>
<rect x="922" y="374" width="1" height="1" fill="#32cd32"/>
<rect x="921" y="374" width="3" height="1" fill="#32cd32"/>
<path fill="#0000ff" d="M372 143h2v1h-2zM32 97h4v1h-4zM215 97h2v1h-2zM284 97h4v1h-4zM732 306h8v1h-8zM193 111h2v1h-2zM332 111h4v1h-4zM721 303h3v1h-3zM657 273h15v1h-15zM296 103h2v1h-2zM509 256h2v1h-2zM527 265h2v1h-2zM532 265h16v1h-16zM17 92h3v1h-3zM237 92h3v1h-3zM244 92h4v1h-4zM597 300h10v1h-10zM715 300h2v1h-2zM180 117h4v1h-4zM36 98h3v1h-3zM212 98h3v1h-3zM288 98h3v1h-3zM829 223h11v1h-11zM728 305h4v1h-4zM740 305h4v1h-4zM431 200h2v1h-2zM677 276h7v1h-7zM493 247h2v1h-2zM816 230h2v1h-2zM852 230h2v1h-2zM595 299h2v1h-2zM607 299h2v1h-2zM712 299h3v1h-3zM752 299h2v1h-2zM587 295h2v1h-2zM615 295h2v1h-2zM529 266h3v1h-3zM548 266h3v1h-3zM640 288h2v1h-2zM764 288h2v1h-2zM591 297h2v1h-2zM611 297h2v1h-2zM708 297h2v1h-2zM103 137h2v1h-2zM152 137h3v1h-3zM364 137h2v1h-2zM579 291h2v1h-2zM635 291h2v1h-2zM39 99h2v1h-2zM210 99h2v1h-2zM583 293h2v1h-2zM620 293h4v1h-4zM628 293h4v1h-4zM91 130h2v1h-2zM522 263h2v1h-2zM24 94h3v1h-3zM228 94h7v1h-7zM252 94h4v1h-4zM265 94h11v1h-11zM191 112h2v1h-2zM336 112h3v1h-3zM825 225h2v1h-2zM843 225h2v1h-2zM448 208h2v1h-2zM109 140h2v1h-2zM368 140h2v1h-2zM427 198h2v1h-2zM53 107h2v1h-2zM200 107h2v1h-2zM317 107h3v1h-3zM124 149h11v1h-11zM73 122h2v1h-2zM29 96h3v1h-3zM217 96h7v1h-7zM260 96h3v1h-3zM280 96h4v1h-4zM827 224h2v1h-2zM840 224h3v1h-3zM320 108h4v1h-4zM491 246h2v1h-2zM112 142h2v1h-2zM188 114h2v1h-2zM341 114h2v1h-2zM41 100h2v1h-2zM208 100h2v1h-2zM292 100h2v1h-2zM576 290h3v1h-3zM637 290h2v1h-2zM197 109h2v1h-2zM324 109h4v1h-4zM724 304h4v1h-4zM744 304h3v1h-3zM27 95h2v1h-2zM224 95h4v1h-4zM256 95h4v1h-4zM263 95h2v1h-2zM276 95h4v1h-4zM177 118h3v1h-3zM49 105h2v1h-2zM300 105h15v1h-15zM85 127h2v1h-2zM75 123h2v1h-2zM429 199h2v1h-2zM684 277h3v1h-3zM105 138h2v1h-2zM149 138h3v1h-3zM107 139h2v1h-2zM147 139h2v1h-2zM51 106h2v1h-2zM315 106h2v1h-2zM121 148h3v1h-3zM135 148h2v1h-2zM380 148h2v1h-2zM687 278h2v1h-2zM71 121h2v1h-2zM172 121h2v1h-2zM692 281h2v1h-2zM68 120h3v1h-3zM116 145h2v1h-2zM375 145h2v1h-2zM689 279h2v1h-2zM719 302h2v1h-2zM748 302h2v1h-2zM100 135h2v1h-2zM156 135h2v1h-2zM8 89h4v1h-4zM655 274h2v1h-2zM672 274h3v1h-3zM433 201h6v1h-6zM12 90h3v1h-3zM581 292h2v1h-2zM624 292h4v1h-4zM632 292h3v1h-3zM675 275h2v1h-2zM97 133h2v1h-2zM159 133h2v1h-2zM15 91h2v1h-2zM240 91h4v1h-4zM419 193h2v1h-2zM821 227h2v1h-2zM847 227h2v1h-2zM20 93h4v1h-4zM235 93h2v1h-2zM248 93h4v1h-4zM444 205h2v1h-2zM861 237h2v1h-2zM520 262h2v1h-2zM77 124h3v1h-3zM195 110h2v1h-2zM328 110h4v1h-4zM551 267h2v1h-2zM441 203h2v1h-2zM80 125h3v1h-3zM95 132h2v1h-2zM161 132h2v1h-2zM585 294h2v1h-2zM617 294h3v1h-3zM184 116h3v1h-3zM377 146h2v1h-2zM499 252h2v1h-2zM589 296h2v1h-2zM613 296h2v1h-2zM66 119h2v1h-2zM175 119h2v1h-2zM511 257h2v1h-2zM717 301h2v1h-2zM501 253h3v1h-3zM593 298h2v1h-2zM609 298h2v1h-2zM710 298h2v1h-2zM119 147h2v1h-2zM137 147h2v1h-2zM421 194h2v1h-2zM484 241h2v1h-2zM504 254h3v1h-3zM89 129h2v1h-2zM553 268h2v1h-2zM479 238h2v1h-2zM515 259h2v1h-2zM507 255h2v1h-2zM524 264h3v1h-3zM481 239h2v1h-2zM517 260h2v1h-2zM44 102h2v1h-2zM87 128h2v1h-2zM859 236h2v1h-2zM47 104h2v1h-2zM298 104h2v1h-2zM574 289h2v1h-2zM823 226h2v1h-2zM845 226h2v1h-2zM93 131h2v1h-2zM339 113h2v1h-2zM144 141h2v1h-2zM2 87h2v1h-2zM819 228h2v1h-2zM849 228h2v1h-2zM4 88h4v1h-4zM472 232h2v1h-2zM424 196h2v1h-2zM868 243h2v1h-2zM83 126h2v1h-2zM488 244h2v1h-2zM439 202h2v1h-2zM513 258h2v1h-2zM294 101h1v1h-1zM114 143h1v1h-1zM417 190h1v2h-1zM43 101h1v1h-1zM747 303h1v1h-1zM695 283h1v1h-1zM458 218h1v1h-1zM875 250h1v1h-1zM751 300h1v1h-1zM907 299h1v2h-1zM798 250h1v1h-1zM475 234h1v1h-1zM786 266h1v1h-1zM900 287h1v2h-1zM755 297h1v1h-1zM405 175h1v1h-1zM702 291h1v1h-1zM476 235h1v1h-1zM164 130h1v1h-1zM885 263h1v1h-1zM893 275h1v2h-1zM653 276h1v1h-1zM465 225h1v1h-1zM350 122h1v1h-1zM450 209h1v1h-1zM490 245h1v1h-1zM806 240h1v1h-1zM771 282h1v1h-1zM573 288h1v1h-1zM873 248h1v1h-1zM691 280h1v1h-1zM558 272h1v1h-1zM167 127h1v1h-1zM170 123h1v1h-1zM903 292h1v2h-1zM349 121h1v1h-1zM896 280h1v2h-1zM762 290h1v1h-1zM899 285h1v2h-1zM140 145h1v1h-1zM565 279h1v1h-1zM464 224h1v1h-1zM889 268h1v2h-1zM423 195h1v1h-1zM892 273h1v2h-1zM426 197h1v1h-1zM921 319h1v1h-1zM102 136h1v1h-1zM557 271h1v1h-1zM415 187h1v2h-1zM781 272h1v1h-1zM394 164h1v1h-1zM813 233h1v1h-1zM205 103h1v1h-1zM778 275h1v1h-1zM471 231h1v1h-1zM909 303h1v2h-1zM648 281h1v1h-1zM382 149h1v1h-1zM174 120h1v1h-1zM910 305h1v1h-1zM769 284h1v1h-1zM789 262h1v1h-1zM486 242h1v1h-1zM766 287h1v1h-1zM884 261h1v2h-1zM56 109h1v1h-1zM895 278h1v2h-1zM57 110h1v1h-1zM572 287h1v1h-1zM888 267h1v1h-1zM858 235h1v1h-1zM352 124h1v2h-1zM393 163h1v1h-1zM452 211h1v2h-1zM651 278h1v1h-1zM800 247h1v2h-1zM453 213h1v1h-1zM158 134h1v1h-1zM757 295h1v1h-1zM876 251h1v2h-1zM905 296h1v2h-1zM64 117h1v1h-1zM519 261h1v1h-1zM400 170h1v1h-1zM750 301h1v1h-1zM877 253h1v1h-1zM906 298h1v1h-1zM564 278h1v1h-1zM887 265h1v2h-1zM776 277h1v1h-1zM808 238h1v1h-1zM902 291h1v1h-1zM374 144h1v1h-1zM385 153h1v1h-1zM891 271h1v2h-1zM920 317h1v2h-1zM704 293h1v1h-1zM407 177h1v1h-1zM478 237h1v1h-1zM418 192h1v1h-1zM408 178h1v1h-1zM63 116h1v1h-1zM788 263h1v2h-1zM797 251h1v1h-1zM295 102h1v1h-1zM115 144h1v1h-1zM166 128h1v1h-1zM344 116h1v1h-1zM912 307h1v2h-1zM696 284h1v1h-1zM359 132h1v1h-1zM459 219h1v1h-1zM897 282h1v2h-1zM913 309h1v1h-1zM477 236h1v1h-1zM697 285h1v1h-1zM815 231h1v1h-1zM898 284h1v1h-1zM919 316h1v1h-1zM773 280h1v1h-1zM639 289h1v1h-1zM392 161h1v2h-1zM466 226h1v1h-1zM812 234h1v1h-1zM791 259h1v2h-1zM358 131h1v1h-1zM169 124h1v1h-1zM343 115h1v1h-1zM370 141h1v1h-1zM142 143h1v1h-1zM908 301h1v2h-1zM761 291h1v1h-1zM384 151h1v2h-1zM207 101h1v1h-1zM495 248h1v1h-1zM880 256h1v2h-1zM901 289h1v2h-1zM904 294h1v2h-1zM496 249h1v1h-1zM894 277h1v1h-1zM643 286h1v1h-1zM780 273h1v1h-1zM890 270h1v1h-1zM351 123h1v1h-1zM451 210h1v1h-1zM291 99h1v1h-1zM111 141h1v1h-1zM796 252h1v2h-1zM395 165h1v1h-1zM559 273h1v1h-1zM768 285h1v1h-1zM560 274h1v1h-1zM878 254h1v1h-1zM383 150h1v1h-1zM911 306h1v1h-1zM402 172h1v1h-1zM807 239h1v1h-1zM879 255h1v1h-1zM566 280h1v1h-1zM447 207h1v1h-1zM487 243h1v1h-1zM650 279h1v1h-1zM864 239h1v1h-1zM922 320h1v1h-1zM567 281h1v1h-1zM799 249h1v1h-1zM168 125h1v2h-1zM366 138h1v1h-1zM202 106h1v1h-1zM707 296h1v1h-1zM454 214h1v1h-1zM810 236h1v1h-1zM775 278h1v1h-1zM446 206h1v1h-1zM863 238h1v1h-1zM759 293h1v1h-1zM461 221h1v1h-1zM99 134h1v1h-1zM58 111h1v1h-1zM699 287h1v1h-1zM353 126h1v1h-1zM705 294h1v1h-1zM802 245h1v1h-1zM787 265h1v1h-1zM354 127h1v1h-1zM706 295h1v1h-1zM409 179h1v1h-1zM190 113h1v1h-1zM379 147h1v1h-1zM65 118h1v1h-1zM794 255h1v1h-1zM645 284h1v1h-1zM782 271h1v1h-1zM360 133h1v1h-1zM401 171h1v1h-1zM483 240h1v1h-1zM206 102h1v1h-1zM361 134h1v1h-1zM345 117h1v1h-1zM346 118h1v1h-1zM386 154h1v1h-1zM914 310h1v1h-1zM814 232h1v1h-1zM882 259h1v1h-1zM698 286h1v1h-1zM569 284h1v1h-1zM387 155h1v1h-1zM805 241h1v1h-1zM171 122h1v1h-1zM770 283h1v1h-1zM498 251h1v1h-1zM790 261h1v1h-1zM763 289h1v1h-1zM870 244h1v1h-1zM754 298h1v1h-1zM468 228h1v1h-1zM561 275h1v1h-1zM460 220h1v1h-1zM371 142h1v1h-1zM139 146h1v1h-1zM163 131h1v1h-1zM881 258h1v1h-1zM568 282h1v2h-1zM497 250h1v1h-1zM854 231h1v1h-1zM467 227h1v1h-1zM855 232h1v1h-1zM793 256h1v2h-1zM866 241h1v1h-1zM809 237h1v1h-1zM412 183h1v1h-1zM785 267h1v1h-1zM146 140h1v1h-1zM397 167h1v1h-1zM155 136h1v1h-1zM652 277h1v1h-1zM694 282h1v1h-1zM758 294h1v1h-1zM916 312h1v2h-1zM204 104h1v1h-1zM46 103h1v1h-1zM917 314h1v1h-1zM701 290h1v1h-1zM404 174h1v1h-1zM411 181h1v2h-1zM777 276h1v1h-1zM60 113h1v1h-1zM396 166h1v1h-1zM367 139h1v1h-1zM356 129h1v1h-1zM456 216h1v1h-1zM644 285h1v1h-1zM804 242h1v2h-1zM700 288h1v2h-1zM403 173h1v1h-1zM474 233h1v1h-1zM851 229h1v1h-1zM143 142h1v1h-1zM388 156h1v2h-1zM865 240h1v1h-1zM801 246h1v1h-1zM348 120h1v1h-1zM389 158h1v1h-1zM59 112h1v1h-1zM647 282h1v1h-1zM784 268h1v2h-1zM410 180h1v1h-1zM165 129h1v1h-1zM355 128h1v1h-1zM455 215h1v1h-1zM872 246h1v2h-1zM772 281h1v1h-1zM362 135h1v1h-1zM462 222h1v1h-1zM363 136h1v1h-1zM463 223h1v1h-1zM756 296h1v1h-1zM883 260h1v1h-1zM570 285h1v1h-1zM654 275h1v1h-1zM571 286h1v1h-1zM469 229h1v1h-1zM857 234h1v1h-1zM443 204h1v1h-1zM470 230h1v1h-1zM556 270h1v1h-1zM871 245h1v1h-1zM414 186h1v1h-1zM199 108h1v1h-1zM642 287h1v1h-1zM779 274h1v1h-1zM347 119h1v1h-1zM811 235h1v1h-1zM203 105h1v1h-1zM915 311h1v1h-1zM563 277h1v1h-1zM55 108h1v1h-1zM118 146h1v1h-1zM792 258h1v1h-1zM795 254h1v1h-1zM555 269h1v1h-1zM141 144h1v1h-1zM413 184h1v2h-1zM767 286h1v1h-1zM703 292h1v1h-1zM760 292h1v1h-1zM398 168h1v1h-1zM803 244h1v1h-1zM562 276h1v1h-1zM399 169h1v1h-1zM818 229h1v1h-1zM649 280h1v1h-1zM187 115h1v1h-1zM856 233h1v1h-1zM406 176h1v1h-1zM390 159h1v1h-1zM918 315h1v1h-1zM646 283h1v1h-1zM867 242h1v1h-1zM783 270h1v1h-1zM886 264h1v1h-1zM391 160h1v1h-1zM774 279h1v1h-1zM61 114h1v1h-1zM416 189h1v1h-1zM62 115h1v1h-1zM357 130h1v1h-1zM457 217h1v1h-1zM874 249h1v1h-1z"/>
<path fill="#ff0000" d="M103 154h2v1h-2zM116 154h3v1h-3zM188 102h3v1h-3zM275 102h2v1h-2zM712 312h8v1h-8zM498 265h6v1h-6zM525 265h11v1h-11zM664 265h2v1h-2zM241 88h14v1h-14zM297 109h3v1h-3zM311 109h2v1h-2zM316 109h7v1h-7zM645 261h7v1h-7zM656 261h3v1h-3zM193 100h3v1h-3zM271 100h2v1h-2zM21 107h15v1h-15zM47 107h2v1h-2zM51 107h2v1h-2zM292 107h3v1h-3zM399 192h2v1h-2zM403 192h2v1h-2zM411 192h2v1h-2zM544 268h7v1h-7zM512 262h8v1h-8zM643 262h2v1h-2zM659 262h2v1h-2zM239 89h2v1h-2zM255 89h2v1h-2zM480 252h2v1h-2zM176 104h2v1h-2zM280 104h4v1h-4zM36 108h11v1h-11zM53 108h2v1h-2zM295 108h2v1h-2zM313 108h3v1h-3zM483 254h2v1h-2zM56 110h2v1h-2zM300 110h11v1h-11zM323 110h2v1h-2zM598 314h2v1h-2zM604 314h3v1h-3zM747 298h2v1h-2zM235 91h2v1h-2zM325 111h3v1h-3zM576 303h2v1h-2zM284 105h4v1h-4zM553 270h2v1h-2zM178 103h10v1h-10zM277 103h3v1h-3zM150 129h2v1h-2zM441 214h2v1h-2zM812 214h2v1h-2zM825 214h2v1h-2zM472 246h3v1h-3zM224 92h11v1h-11zM260 92h2v1h-2zM593 311h2v1h-2zM709 311h3v1h-3zM720 311h3v1h-3zM743 300h2v1h-2zM60 113h2v1h-2zM336 113h3v1h-3zM585 308h3v1h-3zM704 308h2v1h-2zM728 308h3v1h-3zM591 310h2v1h-2zM707 310h2v1h-2zM723 310h2v1h-2zM97 150h2v1h-2zM125 150h2v1h-2zM212 94h8v1h-8zM263 94h2v1h-2zM19 106h2v1h-2zM49 106h2v1h-2zM288 106h4v1h-4zM816 212h7v1h-7zM579 305h2v1h-2zM734 305h2v1h-2zM508 263h4v1h-4zM520 263h3v1h-3zM661 263h2v1h-2zM470 245h2v1h-2zM504 264h4v1h-4zM523 264h2v1h-2zM640 264h2v1h-2zM740 302h2v1h-2zM492 260h2v1h-2zM652 260h4v1h-4zM152 128h3v1h-3zM105 155h11v1h-11zM144 133h2v1h-2zM201 97h3v1h-3zM4 86h2v1h-2zM220 93h4v1h-4zM123 151h2v1h-2zM600 315h4v1h-4zM551 269h2v1h-2zM583 307h2v1h-2zM840 223h2v1h-2zM119 153h2v1h-2zM328 112h8v1h-8zM488 257h2v1h-2zM749 297h2v1h-2zM208 95h4v1h-4zM265 95h2v1h-2zM835 220h2v1h-2zM444 216h2v1h-2zM828 216h2v1h-2zM540 267h4v1h-4zM636 267h2v1h-2zM485 255h2v1h-2zM160 122h2v1h-2zM395 190h2v1h-2zM536 266h4v1h-4zM831 218h2v1h-2zM397 191h2v1h-2zM405 191h6v1h-6zM588 309h3v1h-3zM725 309h3v1h-3zM448 219h2v1h-2zM833 219h2v1h-2zM100 152h2v1h-2zM121 152h2v1h-2zM687 293h2v1h-2zM745 299h2v1h-2zM736 304h3v1h-3zM237 90h2v1h-2zM257 90h2v1h-2zM92 147h2v1h-2zM680 288h2v1h-2zM692 296h2v1h-2zM596 313h2v1h-2zM428 204h2v1h-2zM439 213h2v1h-2zM814 213h2v1h-2zM823 213h2v1h-2zM191 101h2v1h-2zM273 101h2v1h-2zM204 96h4v1h-4zM95 149h2v1h-2zM401 193h2v1h-2zM413 193h2v1h-2zM684 291h2v1h-2zM136 140h2v1h-2zM199 98h2v1h-2zM804 221h2v1h-2zM837 221h2v1h-2zM148 130h2v1h-2zM424 201h2v1h-2zM436 211h2v1h-2zM581 306h2v1h-2zM732 306h2v1h-2zM196 99h3v1h-3zM689 294h2v1h-2zM420 198h2v1h-2zM416 195h2v1h-2zM368 154h1v1h-1zM16 102h1v2h-1zM427 203h1v1h-1zM903 312h1v1h-1zM140 137h1v1h-1zM626 278h1v1h-1zM618 292h1v3h-1zM90 145h1v1h-1zM133 143h1v1h-1zM453 224h1v1h-1zM862 252h1v1h-1zM91 146h1v1h-1zM156 126h1v1h-1zM756 288h1v2h-1zM779 254h1v1h-1zM675 281h1v2h-1zM811 215h1v1h-1zM863 253h1v2h-1zM457 230h1v2h-1zM884 284h1v2h-1zM739 303h1v1h-1zM668 269h1v2h-1zM676 283h1v1h-1zM76 128h1v2h-1zM859 246h1v2h-1zM360 144h1v1h-1zM393 187h1v2h-1zM423 200h1v1h-1zM672 276h1v2h-1zM475 247h1v1h-1zM595 312h1v1h-1zM361 145h1v2h-1zM902 311h1v1h-1zM610 310h1v1h-1zM787 244h1v1h-1zM682 289h1v1h-1zM364 149h1v2h-1zM622 284h1v2h-1zM799 227h1v1h-1zM844 226h1v1h-1zM159 123h1v1h-1zM438 212h1v1h-1zM683 290h1v1h-1zM456 228h1v2h-1zM569 294h1v2h-1zM782 250h1v1h-1zM163 120h1v1h-1zM848 231h1v2h-1zM614 302h1v2h-1zM869 264h1v2h-1zM68 120h1v1h-1zM341 117h1v1h-1zM490 258h1v1h-1zM858 245h1v1h-1zM575 302h1v1h-1zM452 222h1v2h-1zM342 118h1v1h-1zM671 274h1v2h-1zM674 280h1v1h-1zM883 283h1v1h-1zM766 274h1v1h-1zM359 142h1v2h-1zM667 267h1v2h-1zM378 165h1v1h-1zM790 240h1v1h-1zM171 110h1v1h-1zM625 279h1v2h-1zM389 180h1v2h-1zM128 148h1v1h-1zM731 307h1v1h-1zM809 217h1v1h-1zM18 105h1v1h-1zM763 277h1v1h-1zM917 334h1v2h-1zM262 93h1v1h-1zM82 135h1v1h-1zM166 116h1v1h-1zM802 223h1v1h-1zM83 136h1v1h-1zM621 286h1v2h-1zM865 257h1v2h-1zM847 229h1v2h-1zM633 270h1v1h-1zM794 233h1v1h-1zM561 280h1v2h-1zM697 300h1v1h-1zM759 283h1v2h-1zM419 197h1v1h-1zM460 234h1v2h-1zM349 128h1v2h-1zM422 199h1v1h-1zM433 208h1v1h-1zM678 286h1v1h-1zM174 106h1v1h-1zM392 185h1v2h-1zM769 269h1v2h-1zM345 122h1v1h-1zM434 209h1v1h-1zM466 241h1v1h-1zM757 286h1v2h-1zM75 127h1v1h-1zM135 141h1v1h-1zM467 242h1v1h-1zM613 304h1v2h-1zM905 315h1v1h-1zM913 327h1v2h-1zM139 138h1v1h-1zM67 119h1v1h-1zM916 333h1v1h-1zM806 220h1v1h-1zM370 156h1v1h-1zM906 316h1v1h-1zM616 297h1v3h-1zM850 235h1v1h-1zM909 320h1v2h-1zM797 229h1v1h-1zM753 293h1v1h-1zM455 226h1v2h-1zM482 253h1v1h-1zM864 255h1v2h-1zM851 236h1v1h-1zM872 268h1v1h-1zM344 120h1v2h-1zM557 274h1v1h-1zM74 126h1v1h-1zM677 284h1v2h-1zM459 233h1v1h-1zM876 273h1v2h-1zM348 126h1v2h-1zM886 287h1v1h-1zM142 135h1v1h-1zM362 147h1v1h-1zM381 169h1v1h-1zM887 288h1v1h-1zM628 275h1v2h-1zM146 132h1v1h-1zM363 148h1v1h-1zM447 218h1v1h-1zM620 288h1v2h-1zM158 124h1v1h-1zM567 291h1v2h-1zM904 313h1v2h-1zM912 325h1v2h-1zM793 234h1v2h-1zM418 196h1v1h-1zM846 228h1v1h-1zM773 262h1v2h-1zM878 277h1v2h-1zM776 258h1v1h-1zM556 272h1v2h-1zM564 285h1v2h-1zM454 225h1v1h-1zM879 279h1v1h-1zM742 301h1v1h-1zM765 275h1v1h-1zM495 262h1v1h-1zM700 303h1v2h-1zM663 264h1v1h-1zM760 281h1v2h-1zM496 263h1v1h-1zM772 264h1v2h-1zM915 331h1v2h-1zM477 249h1v1h-1zM784 247h1v2h-1zM796 230h1v2h-1zM907 317h1v2h-1zM162 121h1v1h-1zM165 117h1v1h-1zM566 289h1v2h-1zM849 233h1v2h-1zM908 319h1v1h-1zM373 160h1v1h-1zM632 271h1v1h-1zM570 296h1v1h-1zM853 239h1v1h-1zM560 278h1v2h-1zM130 146h1v1h-1zM563 283h1v2h-1zM875 271h1v2h-1zM461 236h1v1h-1zM612 306h1v2h-1zM173 107h1v1h-1zM624 281h1v1h-1zM70 122h1v1h-1zM343 119h1v1h-1zM351 131h1v2h-1zM380 167h1v2h-1zM443 215h1v1h-1zM77 130h1v1h-1zM268 97h1v1h-1zM699 302h1v1h-1zM808 218h1v1h-1zM462 237h1v1h-1zM62 114h1v1h-1zM476 248h1v1h-1zM435 210h1v1h-1zM607 313h1v1h-1zM10 94h1v1h-1zM168 113h1v2h-1zM893 297h1v2h-1zM365 151h1v1h-1zM914 329h1v2h-1zM635 268h1v1h-1zM918 336h1v1h-1zM469 244h1v1h-1zM639 265h1v1h-1zM565 287h1v2h-1zM372 158h1v2h-1zM69 121h1v1h-1zM491 259h1v1h-1zM852 237h1v2h-1zM911 323h1v2h-1zM555 271h1v1h-1zM768 271h1v1h-1zM559 276h1v2h-1zM619 290h1v2h-1zM267 96h1v1h-1zM698 301h1v1h-1zM874 270h1v1h-1zM347 124h1v2h-1zM792 236h1v2h-1zM350 130h1v1h-1zM379 166h1v1h-1zM627 277h1v1h-1zM679 287h1v1h-1zM888 289h1v2h-1zM9 92h1v2h-1zM752 294h1v2h-1zM775 259h1v2h-1zM6 87h1v1h-1zM755 290h1v2h-1zM383 171h1v2h-1zM889 291h1v1h-1zM892 295h1v2h-1zM468 243h1v1h-1zM487 256h1v1h-1zM842 224h1v1h-1zM84 137h1v1h-1zM706 309h1v1h-1zM611 308h1v2h-1zM371 157h1v1h-1zM172 108h1v2h-1zM623 282h1v2h-1zM877 275h1v2h-1zM771 266h1v2h-1zM562 282h1v1h-1zM58 111h1v1h-1zM573 300h1v1h-1zM141 136h1v1h-1zM873 269h1v1h-1zM630 273h1v1h-1zM353 134h1v2h-1zM558 275h1v1h-1zM164 118h1v2h-1zM102 153h1v1h-1zM346 123h1v1h-1zM354 136h1v1h-1zM13 98h1v2h-1zM783 249h1v1h-1zM895 300h1v2h-1zM795 232h1v1h-1zM896 302h1v1h-1zM132 144h1v1h-1zM899 306h1v2h-1zM568 293h1v1h-1zM910 322h1v1h-1zM767 272h1v2h-1zM791 238h1v2h-1zM694 297h1v1h-1zM803 222h1v1h-1zM87 140h1v2h-1zM352 133h1v1h-1zM259 91h1v1h-1zM786 245h1v1h-1zM8 90h1v2h-1zM701 305h1v1h-1zM11 95h1v2h-1zM881 281h1v1h-1zM382 170h1v1h-1zM385 174h1v2h-1zM497 264h1v1h-1zM702 306h1v1h-1zM891 293h1v2h-1zM12 97h1v1h-1zM94 148h1v1h-1zM415 194h1v1h-1zM634 269h1v1h-1zM778 255h1v1h-1zM64 116h1v1h-1zM478 250h1v1h-1zM386 176h1v1h-1zM65 117h1v1h-1zM479 251h1v1h-1zM572 298h1v2h-1zM175 105h1v1h-1zM810 216h1v1h-1zM374 161h1v1h-1zM880 280h1v1h-1zM854 240h1v1h-1zM609 311h1v1h-1zM167 115h1v1h-1zM170 111h1v1h-1zM375 162h1v1h-1zM127 149h1v1h-1zM72 124h1v1h-1zM855 241h1v1h-1zM430 205h1v1h-1zM686 292h1v1h-1zM356 138h1v2h-1zM78 131h1v1h-1zM762 278h1v1h-1zM7 88h1v2h-1zM269 98h1v1h-1zM774 261h1v1h-1zM798 228h1v1h-1zM79 132h1v1h-1zM63 115h1v1h-1zM270 99h1v1h-1zM155 127h1v1h-1zM143 134h1v1h-1zM781 251h1v1h-1zM920 338h1v1h-1zM367 153h1v1h-1zM85 138h1v1h-1zM758 285h1v1h-1zM147 131h1v1h-1zM571 297h1v1h-1zM770 268h1v1h-1zM86 139h1v1h-1zM89 143h1v2h-1zM629 274h1v1h-1zM71 123h1v1h-1zM789 241h1v1h-1zM617 295h1v2h-1zM463 238h1v1h-1zM754 292h1v1h-1zM801 224h1v1h-1zM578 304h1v1h-1zM894 299h1v1h-1zM366 152h1v1h-1zM14 100h1v1h-1zM897 303h1v2h-1zM15 101h1v1h-1zM890 292h1v1h-1zM898 305h1v1h-1zM919 337h1v1h-1zM843 225h1v1h-1zM426 202h1v1h-1zM861 250h1v2h-1zM340 115h1v2h-1zM59 112h1v1h-1zM857 244h1v1h-1zM134 142h1v1h-1zM777 256h1v2h-1zM131 145h1v1h-1zM355 137h1v1h-1zM384 173h1v1h-1zM703 307h1v1h-1zM901 309h1v2h-1zM388 179h1v1h-1zM55 109h1v1h-1zM761 279h1v2h-1zM868 262h1v2h-1zM788 242h1v2h-1zM800 225h1v2h-1zM574 301h1v1h-1zM608 312h1v1h-1zM2 84h1v1h-1zM157 125h1v1h-1zM780 252h1v2h-1zM673 278h1v2h-1zM882 282h1v1h-1zM3 85h1v1h-1zM696 299h1v1h-1zM138 139h1v1h-1zM387 177h1v2h-1zM377 164h1v1h-1zM615 300h1v2h-1zM839 222h1v1h-1zM391 183h1v2h-1zM80 133h1v1h-1zM670 273h1v1h-1zM900 308h1v1h-1zM81 134h1v1h-1zM66 118h1v1h-1zM169 112h1v1h-1zM856 242h1v2h-1zM695 298h1v1h-1zM450 220h1v1h-1zM369 155h1v1h-1zM764 276h1v1h-1zM867 260h1v2h-1zM88 142h1v1h-1zM339 114h1v1h-1zM807 219h1v1h-1zM99 151h1v1h-1zM431 206h1v1h-1zM451 221h1v1h-1zM785 246h1v1h-1zM860 248h1v2h-1zM830 217h1v1h-1zM871 267h1v1h-1zM669 271h1v2h-1zM432 207h1v1h-1zM376 163h1v1h-1zM73 125h1v1h-1zM357 140h1v1h-1zM394 189h1v1h-1zM465 240h1v1h-1zM358 141h1v1h-1zM666 266h1v1h-1zM390 182h1v1h-1zM129 147h1v1h-1zM17 104h1v1h-1zM691 295h1v1h-1zM921 339h1v1h-1zM870 266h1v1h-1zM922 340h1v1h-1zM845 227h1v1h-1zM866 259h1v1h-1zM827 215h1v1h-1zM458 232h1v1h-1zM751 296h1v1h-1zM638 266h1v1h-1zM464 239h1v1h-1zM494 261h1v1h-1zM642 263h1v1h-1zM631 272h1v1h-1zM446 217h1v1h-1zM885 286h1v1h-1z"/>
</g>
<rect x="2" y="435" width="2" height="4" fill="#c0c0c0"/>
<rect x="5" y="435" width="3" height="6" fill="#c0c0c0"/>
<rect x="9" y="435" width="3" height="6" fill="#c0c0c0"/>
<rect x="13" y="435" width="3" height="4" fill="#c0c0c0"/>
<rect x="17" y="435" width="3" height="3" fill="#c0c0c0"/>
<rect x="21" y="435" width="3" height="2" fill="#c0c0c0"/>
<rect x="25" y="435" width="3" height="1" fill="#c0c0c0"/>
<rect x="29" y="435" width="3" height="2" fill="#c0c0c0"/>
<rect x="33" y="434" width="3" height="1" fill="#c0c0c0"/>
<rect x="37" y="434" width="3" height="1" fill="#c0c0c0"/>
<rect x="41" y="435" width="3" height="1" fill="#c0c0c0"/>
<rect x="45" y="435" width="3" height="1" fill="#c0c0c0"/>
<rect x="49" y="435" width="3" height="1" fill="#c0c0c0"/>
<rect x="53" y="435" width="3" height="8" fill="#c0c0c0"/>
<rect x="57" y="435" width="3" height="12" fill="#c0c0c0"/>
<rect x="61" y="435" width="3" height="16" fill="#c0c0c0"/>
<rect x="65" y="435" width="3" height="18" fill="#c0c0c0"/>
<rect x="69" y="435" width="3" height="18" fill="#c0c0c0"/>
<rect x="73" y="435" width="3" height="18" fill="#c0c0c0"/>
<rect x="77" y="435" width="3" height="19" fill="#c0c0c0"/>
<rect x="81" y="435" width="3" height="20" fill="#c0c0c0"/>
<rect x="85" y="435" width="3" height="20" fill="#c0c0c0"/>
<rect x="89" y="435" width="3" height="20" fill="#c0c0c0"/>
<rect x="93" y="435" width="3" height="17" fill="#c0c0c0"/>
<rect x="97" y="435" width="3" height="15" fill="#c0c0c0"/>
<rect x="101" y="435" width="3" height="16" fill="#c0c0c0"/>
<rect x="105" y="435" width="3" height="14" fill="#c0c0c0"/>
<rect x="109" y="435" width="3" height="14" fill="#c0c0c0"/>
<rect x="113" y="435" width="3" height="13" fill="#c0c0c0"/>
<rect x="117" y="435" width="3" height="13" fill="#c0c0c0"/>
<rect x="121" y="435" width="3" height="12" fill="#c0c0c0"/>
<rect x="125" y="435" width="3" height="8" fill="#c0c0c0"/>
<rect x="129" y="435" width="3" height="3" fill="#c0c0c0"/>
<rect x="133" y="434" width="3" height="1" fill="#c0c0c0"/>
<rect x="137" y="433" width="3" height="2" fill="#c0c0c0"/>
<rect x="141" y="430" width="3" height="5" fill="#c0c0c0"/>
<rect x="145" y="429" width="3" height="6" fill="#c0c0c0"/>
<rect x="149" y="428" width="3" height="7" fill="#c0c0c0"/>
<rect x="153" y="428" width="3" height="7" fill="#c0c0c0"/>
<rect x="157" y="427" width="3" height="8" fill="#c0c0c0"/>
<rect x="161" y="427" width="3" height="8" fill="#c0c0c0"/>
<rect x="165" y="424" width="3" height="11" fill="#c0c0c0"/>
<rect x="169" y="424" width="3" height="11" fill="#c0c0c0"/>
<rect x="173" y="422" width="3" height="13" fill="#c0c0c0"/>
<rect x="177" y="422" width="3" height="13" fill="#c0c0c0"/>
<rect x="181" y="426" width="3" height="9" fill="#c0c0c0"/>
<rect x="185" y="426" width="3" height="9" fill="#c0c0c0"/>
<rect x="189" y="426" width="3" height="9" fill="#c0c0c0"/>
<rect x="193" y="428" width="3" height="7" fill="#c0c0c0"/>
<rect x="197" y="428" width="3" height="7" fill="#c0c0c0"/>
<rect x="201" y="427" width="3" height="8" fill="#c0c0c0"/>
<rect x="205" y="424" width="3" height="11" fill="#c0c0c0"/>
<rect x="209" y="421" width="3" height="14" fill="#c0c0c0"/>
<rect x="213" y="419" width="3" height="16" fill="#c0c0c0"/>
<rect x="217" y="419" width="3" height="16" fill="#c0c0c0"/>
<rect x="221" y="422" width="3" height="13" fill="#c0c0c0"/>
<rect x="225" y="426" width="3" height="9" fill="#c0c0c0"/>
<rect x="229" y="426" width="3" height="9" fill="#c0c0c0"/>
<rect x="233" y="427" width="3" height="8" fill="#c0c0c0"/>
<rect x="237" y="427" width="3" height="8" fill="#c0c0c0"/>
<rect x="241" y="427" width="3" height="8" fill="#c0c0c0"/>
<rect x="245" y="430" width="3" height="5" fill="#c0c0c0"/>
<rect x="249" y="431" width="3" height="4" fill="#c0c0c0"/>
<rect x="253" y="432" width="3" height="3" fill="#c0c0c0"/>
<rect x="257" y="434" width="3" height="1" fill="#c0c0c0"/>
<rect x="261" y="434" width="3" height="1" fill="#c0c0c0"/>
<rect x="265" y="435" width="3" height="1" fill="#c0c0c0"/>
<rect x="269" y="435" width="3" height="1" fill="#c0c0c0"/>
<rect x="273" y="435" width="3" height="2" fill="#c0c0c0"/>
<rect x="277" y="435" width="3" height="3" fill="#c0c0c0"/>
<rect x="281" y="435" width="3" height="5" fill="#c0c0c0"/>
<rect x="285" y="435" width="3" height="4" fill="#c0c0c0"/>
<rect x="289" y="435" width="3" height="3" fill="#c0c0c0"/>
<rect x="293" y="435" width="3" height="3" fill="#c0c0c0"/>
<rect x="297" y="435" width="3" height="6" fill="#c0c0c0"/>
<rect x="301" y="435" width="3" height="5" fill="#c0c0c0"/>
<rect x="305" y="435" width="3" height="5" fill="#c0c0c0"/>
<rect x="309" y="435" width="3" height="4" fill="#c0c0c0"/>
<rect x="313" y="435" width="3" height="4" fill="#c0c0c0"/>
<rect x="317" y="435" width="3" height="4" fill="#c0c0c0"/>
<rect x="321" y="435" width="3" height="4" fill="#c0c0c0"/>
<rect x="325" y="435" width="3" height="4" fill="#c0c0c0"/>
<rect x="329" y="435" width="3" height="5" fill="#c0c0c0"/>
<rect x="333" y="435" width="3" height="5" fill="#c0c0c0"/>
<rect x="337" y="435" width="3" height="6" fill="#c0c0c0"/>
<rect x="341" y="435" width="3" height="10" fill="#c0c0c0"/>
<rect x="345" y="435" width="3" height="15" fill="#c0c0c0"/>
<rect x="349" y="435" width="3" height="21" fill="#c0c0c0"/>
<rect x="353" y="435" width="3" height="25" fill="#c0c0c0"/>
<rect x="357" y="435" width="3" height="27" fill="#c0c0c0"/>
<rect x="361" y="435" width="3" height="28" fill="#c0c0c0"/>
<rect x="365" y="435" width="3" height="27" fill="#c0c0c0"/>
<rect x="369" y="435" width="3" height="26" fill="#c0c0c0"/>
<rect x="373" y="435" width="3" height="24" fill="#c0c0c0"/>
<rect x="377" y="435" width="3" height="24" fill="#c0c0c0"/>
<rect x="381" y="435" width="3" height="22" fill="#c0c0c0"/>
<rect x="385" y="435" width="3" height="24" fill="#c0c0c0"/>
<rect x="389" y="435" width="3" height="25" fill="#c0c0c0"/>
<rect x="393" y="435" width="3" height="27" fill="#c0c0c0"/>
<rect x="397" y="435" width="3" height="26" fill="#c0c0c0"/>
<rect x="401" y="435" width="3" height="25" fill="#c0c0c0"/>
<rect x="405" y="435" width="3" height="24" fill="#c0c0c0"/>
<rect x="409" y="435" width="3" height="23" fill="#c0c0c0"/>
<rect x="413" y="435" width="3" height="24" fill="#c0c0c0"/>
<rect x="417" y="435" width="3" height="26" fill="#c0c0c0"/>
<rect x="421" y="435" width="3" height="24" fill="#c0c0c0"/>
<rect x="425" y="435" width="3" height="24" fill="#c0c0c0"/>
<rect x="429" y="435" width="3" height="23" fill="#c0c0c0"/>
<rect x="433" y="435" width="3" height="23" fill="#c0c0c0"/>
<rect x="437" y="435" width="3" height="23" fill="#c0c0c0"/>
<rect x="441" y="435" width="3" height="23" fill="#c0c0c0"/>
<rect x="445" y="435" width="3" height="25" fill="#c0c0c0"/>
<rect x="449" y="435" width="3" height="27" fill="#c0c0c0"/>
<rect x="453" y="435" width="3" height="29" fill="#c0c0c0"/>
<rect x="457" y="435" width="3" height="31" fill="#c0c0c0"/>
<rect x="461" y="435" width="3" height="32" fill="#c0c0c0"/>
<rect x="465" y="435" width="3" height="30" fill="#c0c0c0"/>
<rect x="469" y="435" width="3" height="30" fill="#c0c0c0"/>
<rect x="473" y="435" width="3" height="28" fill="#c0c0c0"/>
<rect x="477" y="435" width="3" height="27" fill="#c0c0c0"/>
<rect x="481" y="435" width="3" height="26" fill="#c0c0c0"/>
<rect x="485" y="435" width="3" height="25" fill="#c0c0c0"/>
<rect x="489" y="435" width="3" height="23" fill="#c0c0c0"/>
<rect x="493" y="435" width="3" height="23" fill="#c0c0c0"/>
<rect x="497" y="435" width="3" height="23" fill="#c0c0c0"/>
<rect x="501" y="435" width="3" height="22" fill="#c0c0c0"/>
<rect x="505" y="435" width="3" height="20" fill="#c0c0c0"/>
<rect x="509" y="435" width="3" height="18" fill="#c0c0c0"/>
<rect x="513" y="435" width="3" height="16" fill="#c0c0c0"/>
<rect x="517" y="435" width="3" height="16" fill="#c0c0c0"/>
<rect x="521" y="435" width="3" height="16" fill="#c0c0c0"/>
<rect x="525" y="435" width="3" height="17" fill="#c0c0c0"/>
<rect x="529" y="435" width="3" height="16" fill="#c0c0c0"/>
<rect x="533" y="435" width="3" height="15" fill="#c0c0c0"/>
<rect x="537" y="435" width="3" height="15" fill="#c0c0c0"/>
<rect x="541" y="435" width="3" height="13" fill="#c0c0c0"/>
<rect x="545" y="435" width="3" height="12" fill="#c0c0c0"/>
<rect x="549" y="435" width="3" height="12" fill="#c0c0c0"/>
<rect x="553" y="435" width="3" height="14" fill="#c0c0c0"/>
<rect x="557" y="435" width="3" height="18" fill="#c0c0c0"/>
<rect x="561" y="435" width="3" height="24" fill="#c0c0c0"/>
<rect x="565" y="435" width="3" height="29" fill="#c0c0c0"/>
<rect x="569" y="435" width="3" height="32" fill="#c0c0c0"/>
<rect x="573" y="435" width="3" height="31" fill="#c0c0c0"/>
<rect x="577" y="435" width="3" height="29" fill="#c0c0c0"/>
<rect x="581" y="435" width="3" height="26" fill="#c0c0c0"/>
<rect x="585" y="435" width="3" height="24" fill="#c0c0c0"/>
<rect x="589" y="435" width="3" height="20" fill="#c0c0c0"/>
<rect x="593" y="435" width="3" height="16" fill="#c0c0c0"/>
<rect x="597" y="435" width="3" height="14" fill="#c0c0c0"/>
<rect x="601" y="435" width="3" height="12" fill="#c0c0c0"/>
<rect x="605" y="435" width="3" height="7" fill="#c0c0c0"/>
<rect x="609" y="435" width="3" height="3" fill="#c0c0c0"/>
<rect x="613" y="431" width="3" height="4" fill="#c0c0c0"/>
<rect x="617" y="427" width="3" height="8" fill="#c0c0c0"/>
<rect x="621" y="424" width="3" height="11" fill="#c0c0c0"/>
<rect x="625" y="424" width="3" height="11" fill="#c0c0c0"/>
<rect x="629" y="425" width="3" height="10" fill="#c0c0c0"/>
<rect x="633" y="426" width="3" height="9" fill="#c0c0c0"/>
<rect x="637" y="426" width="3" height="9" fill="#c0c0c0"/>
<rect x="641" y="428" width="3" height="7" fill="#c0c0c0"/>
<rect x="645" y="428" width="3" height="7" fill="#c0c0c0"/>
<rect x="649" y="430" width="3" height="5" fill="#c0c0c0"/>
<rect x="653" y="431" width="3" height="4" fill="#c0c0c0"/>
<rect x="657" y="434" width="3" height="1" fill="#c0c0c0"/>
<rect x="661" y="435" width="3" height="3" fill="#c0c0c0"/>
<rect x="665" y="435" width="3" height="5" fill="#c0c0c0"/>
<rect x="669" y="435" width="3" height="7" fill="#c0c0c0"/>
<rect x="673" y="435" width="3" height="10" fill="#c0c0c0"/>
<rect x="677" y="435" width="3" height="12" fill="#c0c0c0"/>
<rect x="681" y="435" width="3" height="11" fill="#c0c0c0"/>
<rect x="685" y="435" width="3" height="12" fill="#c0c0c0"/>
<rect x="689" y="435" width="3" height="12" fill="#c0c0c0"/>
<rect x="693" y="435" width="3" height="11" fill="#c0c0c0"/>
<rect x="697" y="435" width="3" height="12" fill="#c0c0c0"/>
<rect x="701" y="435" width="3" height="15" fill="#c0c0c0"/>
<rect x="705" y="435" width="3" height="15" fill="#c0c0c0"/>
<rect x="709" y="435" width="3" height="14" fill="#c0c0c0"/>
<rect x="713" y="435" width="3" height="11" fill="#c0c0c0"/>
<rect x="717" y="435" width="3" height="10" fill="#c0c0c0"/>
<rect x="721" y="435" width="3" height="8" fill="#c0c0c0"/>
<rect x="725" y="435" width="3" height="7" fill="#c0c0c0"/>
<rect x="729" y="435" width="3" height="5" fill="#c0c0c0"/>
<rect x="733" y="435" width="3" height="3" fill="#c0c0c0"/>
<rect x="737" y="435" width="3" height="3" fill="#c0c0c0"/>
<rect x="741" y="434" width="3" height="1" fill="#c0c0c0"/>
<rect x="745" y="433" width="3" height="2" fill="#c0c0c0"/>
<rect x="749" y="430" width="3" height="5" fill="#c0c0c0"/>
<rect x="753" y="426" width="3" height="9" fill="#c0c0c0"/>
<rect x="757" y="424" width="3" height="11" fill="#c0c0c0"/>
<rect x="761" y="421" width="3" height="14" fill="#c0c0c0"/>
<rect x="765" y="420" width="3" height="15" fill="#c0c0c0"/>
<rect x="769" y="417" width="3" height="18" fill="#c0c0c0"/>
<rect x="773" y="413" width="3" height="22" fill="#c0c0c0"/>
<rect x="777" y="412" width="3" height="23" fill="#c0c0c0"/>
<rect x="781" y="412" width="3" height="23" fill="#c0c0c0"/>
<rect x="785" y="412" width="3" height="23" fill="#c0c0c0"/>
<rect x="789" y="411" width="3" height="24" fill="#c0c0c0"/>
<rect x="793" y="410" width="3" height="25" fill="#c0c0c0"/>
<rect x="797" y="410" width="3" height="25" fill="#c0c0c0"/>
<rect x="801" y="409" width="3" height="26" fill="#c0c0c0"/>
<rect x="805" y="409" width="3" height="26" fill="#c0c0c0"/>
<rect x="809" y="409" width="3" height="26" fill="#c0c0c0"/>
<rect x="813" y="409" width="3" height="26" fill="#c0c0c0"/>
<rect x="817" y="413" width="3" height="22" fill="#c0c0c0"/>
<rect x="821" y="415" width="3" height="20" fill="#c0c0c0"/>
<rect x="825" y="420" width="3" height="15" fill="#c0c0c0"/>
<rect x="829" y="424" width="3" height="11" fill="#c0c0c0"/>
<rect x="833" y="427" width="3" height="8" fill="#c0c0c0"/>
<rect x="837" y="429" width="3" height="6" fill="#c0c0c0"/>
<rect x="841" y="432" width="3" height="3" fill="#c0c0c0"/>
<rect x="845" y="435" width="3" height="2" fill="#c0c0c0"/>
<rect x="849" y="435" width="3" height="7" fill="#c0c0c0"/>
<rect x="853" y="435" width="3" height="9" fill="#c0c0c0"/>
<rect x="857" y="435" width="3" height="10" fill="#c0c0c0"/>
<rect x="861" y="435" width="3" height="11" fill="#c0c0c0"/>
<rect x="865" y="435" width="3" height="13" fill="#c0c0c0"/>
<rect x="869" y="435" width="3" height="16" fill="#c0c0c0"/>
<rect x="873" y="435" width="3" height="17" fill="#c0c0c0"/>
<rect x="877" y="435" width="3" height="20" fill="#c0c0c0"/>
<rect x="881" y="435" width="3" height="22" fill="#c0c0c0"/>
<rect x="885" y="435" width="3" height="24" fill="#c0c0c0"/>
<rect x="889" y="435" width="3" height="25" fill="#c0c0c0"/>
<rect x="893" y="435" width="3" height="26" fill="#c0c0c0"/>
<rect x="897" y="435" width="3" height="28" fill="#c0c0c0"/>
<rect x="901" y="435" width="3" height="31" fill="#c0c0c0"/>
<rect x="905" y="435" width="3" height="33" fill="#c0c0c0"/>
<rect x="909" y="435" width="3" height="33" fill="#c0c0c0"/>
<rect x="913" y="435" width="3" height="34" fill="#c0c0c0"/>
<rect x="917" y="435" width="3" height="35" fill="#c0c0c0"/>
<rect x="921" y="435" width="3" height="35" fill="#c0c0c0"/>
<path fill="#ff0000" d="M176 425h40v1h-40zM245 425h3v1h-3zM772 425h2v1h-2zM848 425h2v1h-2zM172 426h4v1h-4zM248 426h3v1h-3zM644 426h12v1h-12zM65 441h2v1h-2zM139 441h2v1h-2zM347 441h2v1h-2zM687 441h2v1h-2zM741 441h2v1h-2zM83 450h2v1h-2zM116 450h3v1h-3zM536 450h8v1h-8zM560 450h4v1h-4zM885 450h2v1h-2zM79 448h2v1h-2zM121 448h3v1h-3zM612 448h2v1h-2zM881 448h2v1h-2zM380 459h24v1h-24zM412 459h20v1h-20zM448 459h8v1h-8zM503 459h2v1h-2zM584 459h4v1h-4zM595 459h2v1h-2zM367 453h2v1h-2zM524 453h4v1h-4zM569 453h2v1h-2zM892 453h4v1h-4zM5 428h2v1h-2zM164 428h4v1h-4zM253 428h3v1h-3zM638 428h2v1h-2zM659 428h2v1h-2zM767 428h2v1h-2zM852 428h2v1h-2zM375 457h2v1h-2zM508 457h4v1h-4zM579 457h2v1h-2zM599 457h2v1h-2zM456 460h8v1h-8zM496 460h7v1h-7zM588 460h7v1h-7zM907 460h2v1h-2zM63 440h2v1h-2zM141 440h2v1h-2zM345 440h2v1h-2zM684 440h3v1h-3zM743 440h2v1h-2zM468 462h4v1h-4zM488 462h4v1h-4zM912 462h3v1h-3zM20 436h4v1h-4zM40 436h16v1h-16zM147 436h2v1h-2zM284 436h8v1h-8zM675 436h2v1h-2zM752 436h3v1h-3zM864 436h2v1h-2zM3 427h2v1h-2zM168 427h4v1h-4zM251 427h2v1h-2zM640 427h4v1h-4zM656 427h3v1h-3zM769 427h2v1h-2zM228 423h15v1h-15zM88 452h20v1h-20zM365 452h2v1h-2zM528 452h4v1h-4zM567 452h2v1h-2zM889 452h3v1h-3zM67 442h2v1h-2zM137 442h2v1h-2zM349 442h2v1h-2zM689 442h3v1h-3zM739 442h2v1h-2zM871 442h2v1h-2zM85 451h3v1h-3zM108 451h8v1h-8zM363 451h2v1h-2zM532 451h4v1h-4zM564 451h3v1h-3zM608 451h2v1h-2zM887 451h2v1h-2zM76 446h2v1h-2zM127 446h2v1h-2zM356 446h2v1h-2zM704 446h24v1h-24zM377 458h3v1h-3zM404 458h8v1h-8zM432 458h16v1h-16zM505 458h3v1h-3zM581 458h3v1h-3zM597 458h2v1h-2zM904 458h2v1h-2zM13 433h2v1h-2zM153 433h2v1h-2zM272 433h4v1h-4zM669 433h2v1h-2zM859 433h2v1h-2zM61 439h2v1h-2zM343 439h2v1h-2zM681 439h3v1h-3zM745 439h2v1h-2zM216 424h12v1h-12zM243 424h2v1h-2zM11 432h2v1h-2zM155 432h2v1h-2zM268 432h4v1h-4zM632 432h2v1h-2zM667 432h2v1h-2zM760 432h2v1h-2zM8 430h2v1h-2zM159 430h2v1h-2zM260 430h4v1h-4zM663 430h2v1h-2zM763 430h2v1h-2zM369 454h2v1h-2zM520 454h4v1h-4zM571 454h2v1h-2zM604 454h2v1h-2zM896 454h3v1h-3zM69 443h3v1h-3zM135 443h2v1h-2zM351 443h2v1h-2zM692 443h4v1h-4zM736 443h3v1h-3zM873 443h2v1h-2zM157 431h2v1h-2zM264 431h4v1h-4zM665 431h2v1h-2zM856 431h2v1h-2zM28 438h4v1h-4zM59 438h2v1h-2zM144 438h2v1h-2zM300 438h43v1h-43zM624 438h2v1h-2zM679 438h2v1h-2zM747 438h2v1h-2zM472 463h16v1h-16zM915 463h2v1h-2zM15 434h2v1h-2zM151 434h2v1h-2zM276 434h4v1h-4zM671 434h2v1h-2zM757 434h2v1h-2zM861 434h2v1h-2zM124 447h3v1h-3zM879 447h2v1h-2zM161 429h3v1h-3zM256 429h4v1h-4zM636 429h2v1h-2zM661 429h2v1h-2zM765 429h2v1h-2zM373 456h2v1h-2zM512 456h4v1h-4zM576 456h3v1h-3zM601 456h2v1h-2zM901 456h2v1h-2zM371 455h2v1h-2zM516 455h4v1h-4zM573 455h3v1h-3zM899 455h2v1h-2zM81 449h2v1h-2zM119 449h2v1h-2zM360 449h2v1h-2zM544 449h16v1h-16zM883 449h2v1h-2zM17 435h3v1h-3zM149 435h2v1h-2zM280 435h4v1h-4zM628 435h2v1h-2zM673 435h2v1h-2zM755 435h2v1h-2zM808 410h12v1h-12zM24 437h4v1h-4zM32 437h8v1h-8zM56 437h3v1h-3zM292 437h8v1h-8zM677 437h2v1h-2zM749 437h3v1h-3zM800 412h4v1h-4zM824 412h4v1h-4zM464 461h4v1h-4zM492 461h4v1h-4zM909 461h3v1h-3zM72 444h3v1h-3zM132 444h3v1h-3zM353 444h2v1h-2zM696 444h4v1h-4zM732 444h4v1h-4zM789 415h3v1h-3zM833 415h2v1h-2zM776 422h2v1h-2zM844 422h2v1h-2zM796 413h4v1h-4zM828 413h3v1h-3zM129 445h3v1h-3zM616 445h2v1h-2zM700 445h4v1h-4zM728 445h4v1h-4zM876 445h2v1h-2zM784 417h3v1h-3zM837 417h2v1h-2zM804 411h4v1h-4zM820 411h4v1h-4zM920 465h3v1h-3zM780 419h2v1h-2zM840 419h2v1h-2zM787 416h2v1h-2zM835 416h2v1h-2zM782 418h2v1h-2zM792 414h4v1h-4zM831 414h2v1h-2zM917 464h3v1h-3zM863 435h1v1h-1zM622 440h1v1h-1zM847 424h1v1h-1zM606 453h1v1h-1zM621 441h1v1h-1zM626 437h1v1h-1zM774 424h1v1h-1zM627 436h1v1h-1zM866 437h1v1h-1zM851 427h1v1h-1zM631 433h1v1h-1zM779 420h1v1h-1zM615 446h1v1h-1zM854 429h1v1h-1zM620 442h1v1h-1zM778 421h1v1h-1zM2 426h1v1h-1zM619 443h1v1h-1zM610 450h1v1h-1zM867 438h1v1h-1zM762 431h1v1h-1zM146 437h1v1h-1zM858 432h1v1h-1zM614 447h1v1h-1zM630 434h1v1h-1zM635 430h1v1h-1zM855 430h1v1h-1zM868 439h1v1h-1zM842 420h1v1h-1zM634 431h1v1h-1zM618 444h1v1h-1zM875 444h1v1h-1zM358 447h1v1h-1zM839 418h1v1h-1zM903 457h1v1h-1zM906 459h1v1h-1zM878 446h1v1h-1zM846 423h1v1h-1zM603 455h1v1h-1zM355 445h1v1h-1zM623 439h1v1h-1zM771 426h1v1h-1zM607 452h1v1h-1zM869 440h1v1h-1zM143 439h1v1h-1zM843 421h1v1h-1zM78 447h1v1h-1zM362 450h1v1h-1zM870 441h1v1h-1zM10 431h1v1h-1zM850 426h1v1h-1zM359 448h1v1h-1zM611 449h1v1h-1zM75 445h1v1h-1zM759 433h1v1h-1zM775 423h1v1h-1zM7 429h1v1h-1z"/>
<line x1="3" y1="497.5" x2="1164" y2="497.5" stroke="#c0c0c0" stroke-width="1" stroke-dasharray="3,3"/>
<line x1="3" y1="525.5" x2="1164" y2="525.5" stroke="#c0c0c0" stroke-width="1" stroke-dasharray="3,3"/>
<path fill="#1e90ff" d="M64 519h2v1h-2zM77 519h3v1h-3zM365 519h3v1h-3zM381 519h2v1h-2zM400 519h3v1h-3zM408 519h2v1h-2zM428 519h3v1h-3zM477 519h3v1h-3zM484 519h3v1h-3zM500 519h2v1h-2zM520 519h8v1h-8zM664 519h7v1h-7zM844 519h2v1h-2zM864 519h2v1h-2zM56 521h7v1h-7zM412 521h3v1h-3zM433 521h2v1h-2zM442 521h2v1h-2zM468 521h7v1h-7zM494 521h5v1h-5zM673 521h3v1h-3zM847 521h2v1h-2zM867 521h2v1h-2zM872 521h3v1h-3zM24 512h7v1h-7zM38 512h5v1h-5zM49 512h2v1h-2zM184 512h3v1h-3zM251 512h2v1h-2zM261 512h7v1h-7zM286 512h2v1h-2zM292 512h3v1h-3zM313 512h3v1h-3zM319 512h2v1h-2zM597 512h2v1h-2zM712 512h4v1h-4zM724 512h3v1h-3zM66 518h2v1h-2zM75 518h2v1h-2zM84 518h2v1h-2zM368 518h8v1h-8zM379 518h2v1h-2zM398 518h2v1h-2zM403 518h2v1h-2zM422 518h6v1h-6zM518 518h2v1h-2zM528 518h3v1h-3zM661 518h3v1h-3zM854 518h6v1h-6zM344 524h2v1h-2zM388 524h3v1h-3zM460 524h3v1h-3zM556 524h2v1h-2zM878 524h10v1h-10zM4 515h2v1h-2zM109 515h3v1h-3zM116 515h3v1h-3zM276 515h2v1h-2zM326 515h2v1h-2zM335 515h2v1h-2zM508 515h3v1h-3zM579 515h2v1h-2zM691 515h2v1h-2zM828 515h7v1h-7zM760 500h3v1h-3zM789 500h2v1h-2zM797 500h2v1h-2zM808 500h7v1h-7zM68 517h7v1h-7zM86 517h2v1h-2zM376 517h3v1h-3zM405 517h2v1h-2zM488 517h2v1h-2zM659 517h2v1h-2zM686 517h2v1h-2zM860 517h3v1h-3zM15 510h2v1h-2zM188 510h2v1h-2zM197 510h2v1h-2zM232 510h8v1h-8zM308 510h3v1h-3zM592 510h3v1h-3zM601 510h2v1h-2zM629 510h18v1h-18zM735 510h2v1h-2zM818 510h2v1h-2zM391 525h2v1h-2zM452 525h2v1h-2zM456 525h4v1h-4zM888 525h4v1h-4zM88 516h3v1h-3zM112 516h4v1h-4zM278 516h5v1h-5zM337 516h2v1h-2zM536 516h2v1h-2zM548 516h2v1h-2zM584 516h2v1h-2zM684 516h2v1h-2zM688 516h3v1h-3zM696 516h2v1h-2zM348 527h2v1h-2zM895 527h2v1h-2zM906 527h6v1h-6zM360 522h2v1h-2zM444 522h4v1h-4zM849 522h2v1h-2zM869 522h3v1h-3zM350 528h5v1h-5zM897 528h2v1h-2zM912 528h4v1h-4zM615 502h2v1h-2zM751 502h2v1h-2zM765 502h2v1h-2zM778 502h9v1h-9zM133 506h2v1h-2zM149 506h2v1h-2zM168 506h2v1h-2zM171 506h2v1h-2zM175 506h2v1h-2zM607 506h2v1h-2zM17 511h7v1h-7zM192 511h2v1h-2zM195 511h2v1h-2zM288 511h4v1h-4zM302 511h6v1h-6zM311 511h2v1h-2zM321 511h2v1h-2zM590 511h2v1h-2zM595 511h2v1h-2zM599 511h2v1h-2zM716 511h8v1h-8zM737 511h2v1h-2zM6 514h2v1h-2zM45 514h2v1h-2zM92 514h2v1h-2zM107 514h2v1h-2zM119 514h2v1h-2zM256 514h3v1h-3zM328 514h7v1h-7zM506 514h2v1h-2zM511 514h2v1h-2zM544 514h3v1h-3zM581 514h2v1h-2zM693 514h2v1h-2zM826 514h2v1h-2zM835 514h2v1h-2zM208 503h3v1h-3zM617 503h6v1h-6zM135 507h2v1h-2zM147 507h2v1h-2zM158 507h2v1h-2zM177 507h2v1h-2zM743 507h2v1h-2zM137 508h2v1h-2zM160 508h3v1h-3zM200 508h2v1h-2zM604 508h2v1h-2zM730 508h2v1h-2zM745 508h2v1h-2zM127 505h2v1h-2zM131 505h2v1h-2zM173 505h2v1h-2zM204 505h2v1h-2zM213 505h6v1h-6zM609 505h2v1h-2zM230 509h2v1h-2zM240 509h3v1h-3zM627 509h2v1h-2zM732 509h3v1h-3zM820 509h2v1h-2zM562 529h9v1h-9zM916 529h7v1h-7zM8 513h3v1h-3zM43 513h2v1h-2zM47 513h2v1h-2zM94 513h5v1h-5zM121 513h2v1h-2zM182 513h2v1h-2zM222 513h5v1h-5zM253 513h3v1h-3zM259 513h2v1h-2zM268 513h7v1h-7zM316 513h3v1h-3zM513 513h2v1h-2zM542 513h2v1h-2zM652 513h2v1h-2zM710 513h2v1h-2zM837 513h2v1h-2zM900 530h2v1h-2zM393 526h2v1h-2zM454 526h2v1h-2zM892 526h3v1h-3zM386 523h2v1h-2zM416 523h2v1h-2zM448 523h3v1h-3zM876 523h2v1h-2zM54 520h2v1h-2zM80 520h3v1h-3zM363 520h2v1h-2zM410 520h2v1h-2zM431 520h2v1h-2zM466 520h2v1h-2zM475 520h2v1h-2zM480 520h4v1h-4zM671 520h2v1h-2zM676 520h3v1h-3zM793 498h2v1h-2zM801 498h3v1h-3zM129 504h2v1h-2zM206 504h2v1h-2zM211 504h2v1h-2zM791 499h2v1h-2zM795 499h2v1h-2zM799 499h2v1h-2zM804 499h4v1h-4zM753 501h7v1h-7zM763 501h2v1h-2zM787 501h2v1h-2zM772 496h2v1h-2zM843 518h1v1h-1zM339 517h1v2h-1zM395 524h1v2h-1zM573 522h1v2h-1zM624 505h1v2h-1zM699 518h1v1h-1zM437 518h1v1h-1zM589 512h1v2h-1zM421 519h1v2h-1zM346 525h1v1h-1zM357 525h1v1h-1zM547 515h1v1h-1zM700 519h1v2h-1zM681 515h1v2h-1zM296 515h1v2h-1zM818 511h1v1h-1zM163 507h1v1h-1zM202 507h1v1h-1zM729 509h1v1h-1zM194 512h1v1h-1zM863 518h1v1h-1zM250 511h1v1h-1zM125 507h1v2h-1zM532 516h1v1h-1zM899 529h1v1h-1zM83 519h1v1h-1zM554 522h1v1h-1zM11 512h1v1h-1zM555 523h1v1h-1zM851 521h1v1h-1zM698 517h1v1h-1zM300 515h1v2h-1zM623 504h1v1h-1zM144 506h1v1h-1zM295 513h1v2h-1zM504 516h1v1h-1zM817 507h1v3h-1zM243 510h1v2h-1zM53 517h1v2h-1zM768 500h1v1h-1zM285 513h1v1h-1zM341 520h1v2h-1zM695 515h1v1h-1zM247 514h1v1h-1zM141 505h1v1h-1zM342 522h1v1h-1zM657 515h1v1h-1zM680 517h1v1h-1zM33 508h1v1h-1zM493 520h1v1h-1zM139 507h1v1h-1zM190 509h1v1h-1zM903 530h1v1h-1zM101 516h1v1h-1zM612 503h1v1h-1zM561 528h1v1h-1zM227 512h1v1h-1zM824 511h1v1h-1zM102 517h1v1h-1zM740 508h1v2h-1zM220 508h1v2h-1zM52 515h1v2h-1zM839 514h1v1h-1zM588 514h1v1h-1zM420 521h1v1h-1zM516 515h1v2h-1zM340 519h1v1h-1zM3 516h1v1h-1zM656 514h1v1h-1zM436 519h1v1h-1zM492 518h1v2h-1zM701 521h1v1h-1zM124 509h1v2h-1zM105 514h1v1h-1zM775 496h1v2h-1zM702 522h1v1h-1zM398 519h1v1h-1zM705 518h1v1h-1zM538 517h1v1h-1zM151 507h1v1h-1zM853 519h1v1h-1zM299 517h1v2h-1zM583 515h1v1h-1zM572 524h1v2h-1zM155 510h1v1h-1zM648 512h1v2h-1zM359 523h1v1h-1zM283 515h1v1h-1zM181 511h1v2h-1zM560 527h1v1h-1zM571 526h1v2h-1zM499 520h1v1h-1zM625 507h1v1h-1zM770 498h1v1h-1zM823 509h1v2h-1zM728 510h1v1h-1zM249 512h1v1h-1zM626 508h1v1h-1zM774 495h1v1h-1zM587 515h1v2h-1zM419 522h1v2h-1zM219 506h1v2h-1zM51 513h1v2h-1zM32 509h1v2h-1zM816 505h1v2h-1zM222 512h1v1h-1zM515 514h1v1h-1zM606 507h1v1h-1zM123 511h1v2h-1zM575 519h1v1h-1zM651 514h1v1h-1zM777 500h1v2h-1zM534 514h1v1h-1zM503 517h1v1h-1zM347 526h1v1h-1zM13 510h1v1h-1zM487 518h1v1h-1zM822 508h1v1h-1zM739 510h1v1h-1zM245 513h1v2h-1zM301 513h1v2h-1zM146 508h1v1h-1zM815 502h1v3h-1zM54 519h1v1h-1zM275 514h1v1h-1zM704 519h1v2h-1zM841 516h1v1h-1zM905 528h1v1h-1zM540 515h1v1h-1zM343 523h1v1h-1zM614 501h1v1h-1zM465 521h1v1h-1zM229 510h1v1h-1zM658 516h1v1h-1zM145 507h1v1h-1zM179 508h1v2h-1zM776 498h1v2h-1zM104 515h1v1h-1zM825 512h1v2h-1zM742 506h1v1h-1zM180 510h1v1h-1zM191 510h1v1h-1zM221 510h1v2h-1zM157 508h1v1h-1zM244 512h1v1h-1zM153 510h1v1h-1zM749 504h1v1h-1zM707 516h1v1h-1zM164 506h1v1h-1zM438 517h1v1h-1zM647 511h1v1h-1zM324 513h1v1h-1zM840 515h1v1h-1zM126 506h1v1h-1zM570 528h1v1h-1zM152 508h1v2h-1zM323 512h1v1h-1zM574 520h1v2h-1zM31 511h1v1h-1zM577 517h1v1h-1zM35 508h1v1h-1zM517 517h1v1h-1zM12 511h1v1h-1zM463 523h1v1h-1zM297 517h1v2h-1zM679 518h1v2h-1zM649 514h1v1h-1zM170 507h1v1h-1zM106 513h1v1h-1zM356 526h1v1h-1zM505 515h1v1h-1zM650 515h1v1h-1zM63 520h1v1h-1zM741 507h1v1h-1zM846 520h1v1h-1zM490 516h1v1h-1zM535 515h1v1h-1zM418 524h1v1h-1zM767 501h1v1h-1zM748 505h1v2h-1zM34 507h1v1h-1zM246 515h1v1h-1zM140 506h1v1h-1zM383 520h1v1h-1zM550 517h1v1h-1zM91 515h1v1h-1zM228 511h1v1h-1zM440 519h1v1h-1zM611 504h1v1h-1zM603 509h1v1h-1zM531 517h1v1h-1zM709 514h1v1h-1zM166 504h1v1h-1zM284 514h1v1h-1zM167 505h1v1h-1zM682 514h1v1h-1zM2 517h1v1h-1zM37 511h1v1h-1zM14 509h1v1h-1zM683 515h1v1h-1zM706 517h1v1h-1zM435 520h1v1h-1zM842 517h1v1h-1zM397 520h1v2h-1zM902 531h1v1h-1zM451 524h1v1h-1zM36 509h1v2h-1zM298 519h1v1h-1zM154 511h1v1h-1zM771 497h1v1h-1zM552 519h1v2h-1zM199 509h1v1h-1zM439 518h1v1h-1zM302 512h1v1h-1zM553 521h1v1h-1zM325 514h1v1h-1zM203 506h1v1h-1zM248 513h1v1h-1zM875 522h1v1h-1zM143 505h1v1h-1zM576 518h1v1h-1zM852 520h1v1h-1zM358 524h1v1h-1zM362 521h1v1h-1zM385 522h1v1h-1zM355 527h1v1h-1zM533 515h1v1h-1zM502 518h1v1h-1zM769 499h1v1h-1zM586 517h1v1h-1zM727 511h1v1h-1zM142 504h1v1h-1zM747 507h1v1h-1zM750 503h1v1h-1zM708 515h1v1h-1zM165 505h1v1h-1zM187 511h1v1h-1zM541 514h1v1h-1zM396 522h1v2h-1zM703 521h1v1h-1zM904 529h1v1h-1zM551 518h1v1h-1zM613 502h1v1h-1zM654 512h1v1h-1zM814 501h1v1h-1zM866 520h1v1h-1zM655 513h1v1h-1zM415 522h1v1h-1zM156 509h1v1h-1zM407 518h1v1h-1zM491 517h1v1h-1zM558 525h1v1h-1zM99 514h1v1h-1zM559 526h1v1h-1zM100 515h1v1h-1zM384 521h1v1h-1zM103 516h1v1h-1zM539 516h1v1h-1zM464 522h1v1h-1zM441 520h1v1h-1zM578 516h1v1h-1z"/>
<rect x="1" y="404" width="1164" height="1" fill="#000"/>
<rect x="1" y="473" width="1164" height="1" fill="#000"/>
<rect x="1" y="404" width="1" height="70" fill="#000"/>
<rect x="1164" y="404" width="1" height="70" fill="#000"/>
<rect x="1" y="475" width="1164" height="1" fill="#000"/>
<rect x="1" y="547" width="1164" height="1" fill="#000"/>
<rect x="1" y="475" width="1" height="73" fill="#000"/>
<rect x="1164" y="475" width="1" height="73" fill="#000"/>
<rect x="1166" y="125" width="39" height="11" fill="#ff0000"/>
<rect x="1166" y="180" width="39" height="11" fill="#ff0000"/>
<rect x="1166" y="244" width="39" height="11" fill="#00ff00"/>
<rect x="1166" y="311" width="39" height="11" fill="#0000ff"/>
<rect x="1166" y="368" width="39" height="11" fill="#0000ff"/>
<rect x="1165" y="36" width="2" height="1" fill="#000"/>
<rect x="1165" y="69" width="2" height="1" fill="#000"/>
<rect x="1165" y="102" width="2" height="1" fill="#000"/>
<rect x="1165" y="135" width="2" height="1" fill="#000"/>
<rect x="1165" y="168" width="2" height="1" fill="#000"/>
<rect x="1165" y="201" width="2" height="1" fill="#000"/>
<rect x="1165" y="234" width="2" height="1" fill="#000"/>
<rect x="1165" y="267" width="2" height="1" fill="#000"/>
<rect x="1165" y="300" width="2" height="1" fill="#000"/>
<rect x="1165" y="333" width="2" height="1" fill="#000"/>
<rect x="1165" y="366" width="2" height="1" fill="#000"/>
<rect x="1165" y="399" width="2" height="1" fill="#000"/>
<rect x="1165" y="436" width="1" height="1" fill="#000"/>
<rect x="1165" y="406" width="1" height="1" fill="#000"/>
<rect x="2" y="548" width="1" height="3" fill="#000"/>
<rect x="66" y="548" width="1" height="3" fill="#000"/>
<rect x="130" y="548" width="1" height="3" fill="#000"/>
<rect x="194" y="548" width="1" height="3" fill="#000"/>
<rect x="258" y="548" width="1" height="3" fill="#000"/>
<rect x="322" y="548" width="1" height="3" fill="#000"/>
<rect x="386" y="548" width="1" height="3" fill="#000"/>
<rect x="450" y="548" width="1" height="3" fill="#000"/>
<rect x="514" y="548" width="1" height="3" fill="#000"/>
<rect x="578" y="548" width="1" height="3" fill="#000"/>
<rect x="642" y="548" width="1" height="3" fill="#000"/>
<rect x="706" y="548" width="1" height="3" fill="#000"/>
<rect x="770" y="548" width="1" height="3" fill="#000"/>
<rect x="834" y="548" width="1" height="3" fill="#000"/>
<rect x="898" y="548" width="1" height="3" fill="#000"/>
</g>
<text x="1170.30" y="40.00" font-size="10.2" fill="#000" stroke="#000" stroke-width="0.1" textLength="32.30" lengthAdjust="spacingAndGlyphs" >0.79070</text>
<text x="1170.30" y="73.00" font-size="10.2" fill="#000" stroke="#000" stroke-width="0.1" textLength="32.30" lengthAdjust="spacingAndGlyphs" >0.78290</text>
<text x="1170.30" y="106.00" font-size="10.2" fill="#000" stroke="#000" stroke-width="0.1" textLength="32.30" lengthAdjust="spacingAndGlyphs" >0.77510</text>
<text x="1170.30" y="139.00" font-size="10.2" fill="#000" stroke="#000" stroke-width="0.1" textLength="32.30" lengthAdjust="spacingAndGlyphs" >0.76730</text>
<text x="1170.30" y="172.00" font-size="10.2" fill="#000" stroke="#000" stroke-width="0.1" textLength="32.30" lengthAdjust="spacingAndGlyphs" >0.75950</text>
<text x="1170.30" y="205.00" font-size="10.2" fill="#000" stroke="#000" stroke-width="0.1" textLength="32.30" lengthAdjust="spacingAndGlyphs" >0.75150</text>
<text x="1170.30" y="238.00" font-size="10.2" fill="#000" stroke="#000" stroke-width="0.1" textLength="32.30" lengthAdjust="spacingAndGlyphs" >0.74370</text>
<text x="1170.30" y="271.00" font-size="10.2" fill="#000" stroke="#000" stroke-width="0.1" textLength="32.30" lengthAdjust="spacingAndGlyphs" >0.73590</text>
<text x="1170.30" y="304.00" font-size="10.2" fill="#000" stroke="#000" stroke-width="0.1" textLength="32.30" lengthAdjust="spacingAndGlyphs" >0.72810</text>
<text x="1170.30" y="337.00" font-size="10.2" fill="#000" stroke="#000" stroke-width="0.1" textLength="32.30" lengthAdjust="spacingAndGlyphs" >0.72030</text>
<text x="1170.30" y="370.00" font-size="10.2" fill="#000" stroke="#000" stroke-width="0.1" textLength="32.30" lengthAdjust="spacingAndGlyphs" >0.71250</text>
<text x="1170.30" y="403.00" font-size="10.2" fill="#000" stroke="#000" stroke-width="0.1" textLength="32.30" lengthAdjust="spacingAndGlyphs" >0.70470</text>
<g shape-rendering="crispEdges">
<rect x="1166" y="125" width="39" height="11" fill="#ff0000"/>
<rect x="1166" y="180" width="39" height="11" fill="#ff0000"/>
<rect x="1166" y="244" width="39" height="11" fill="#00ff00"/>
<rect x="1166" y="311" width="39" height="11" fill="#0000ff"/>
<rect x="1166" y="368" width="39" height="11" fill="#0000ff"/>
</g>
<text x="1170.30" y="134.00" font-size="10.2" fill="#fff" textLength="32.30" lengthAdjust="spacingAndGlyphs" >0.76819</text>
<text x="1170.30" y="189.00" font-size="10.2" fill="#fff" textLength="32.30" lengthAdjust="spacingAndGlyphs" >0.75509</text>
<text x="1170.30" y="253.00" font-size="10.2" fill="#fff" textLength="32.30" lengthAdjust="spacingAndGlyphs" >0.74003</text>
<text x="1170.30" y="320.00" font-size="10.2" fill="#fff" textLength="32.30" lengthAdjust="spacingAndGlyphs" >0.72406</text>
<text x="1170.30" y="377.00" font-size="10.2" fill="#fff" textLength="32.30" lengthAdjust="spacingAndGlyphs" >0.71052</text>
<text x="1168.30" y="415.00" font-size="10.2" fill="#000" stroke="#000" stroke-width="0.1" textLength="37.30" lengthAdjust="spacingAndGlyphs" >0.006132</text>
<text x="1168.30" y="438.80" font-size="10.2" fill="#000" stroke="#000" stroke-width="0.1" textLength="17.60" lengthAdjust="spacingAndGlyphs" >0.00</text>
<text x="1168.30" y="470.00" font-size="10.2" fill="#000" stroke="#000" stroke-width="0.1" textLength="40.50" lengthAdjust="spacingAndGlyphs" >-0.007759</text>
<text x="1167.60" y="485.60" font-size="10.2" fill="#000" stroke="#000" stroke-width="0.1" textLength="15.00" lengthAdjust="spacingAndGlyphs" >100</text>
<text x="1167.60" y="500.80" font-size="10.2" fill="#000" stroke="#000" stroke-width="0.1" textLength="10.00" lengthAdjust="spacingAndGlyphs" >70</text>
<text x="1167.60" y="528.40" font-size="10.2" fill="#000" stroke="#000" stroke-width="0.1" textLength="10.00" lengthAdjust="spacingAndGlyphs" >30</text>
<text x="1167.60" y="543.60" font-size="10.2" fill="#000" stroke="#000" stroke-width="0.1" textLength="5.00" lengthAdjust="spacingAndGlyphs" >0</text>
<path d="M4.8 35 L8.4 30.8 L12 35 Z" fill="#000"/>
<text x="17.90" y="35.70" font-size="10.2" fill="#000" stroke="#000" stroke-width="0.1" textLength="67.80" lengthAdjust="spacingAndGlyphs" >AUDUSD-,Daily</text>
<text x="92.00" y="35.70" font-size="10.2" fill="#000" stroke="#000" stroke-width="0.1" textLength="140.70" lengthAdjust="spacingAndGlyphs" >0.71069 0.71069 0.71064 0.71065</text>
<text x="6.00" y="416.60" font-size="10.2" fill="#000" stroke="#000" stroke-width="0.1" textLength="154.00" lengthAdjust="spacingAndGlyphs" >MACD(12,26,9) -0.007128 -0.006257</text>
<text x="6.00" y="487.70" font-size="10.2" fill="#000" stroke="#000" stroke-width="0.1" textLength="68.00" lengthAdjust="spacingAndGlyphs" >RSI(14) 25.2575</text>
<text x="1.00" y="559.80" font-size="10.2" fill="#000" stroke="#000" stroke-width="0.1" textLength="47.00" lengthAdjust="spacingAndGlyphs" >8 Mar 2021</text>
<text x="65.50" y="559.80" font-size="10.2" fill="#000" stroke="#000" stroke-width="0.1" textLength="51.50" lengthAdjust="spacingAndGlyphs" >26 Mar 2021</text>
<text x="129.50" y="559.80" font-size="10.2" fill="#000" stroke="#000" stroke-width="0.1" textLength="49.80" lengthAdjust="spacingAndGlyphs" >15 Apr 2021</text>
<text x="193.90" y="559.80" font-size="10.2" fill="#000" stroke="#000" stroke-width="0.1" textLength="49.10" lengthAdjust="spacingAndGlyphs" >4 May 2021</text>
<text x="257.30" y="559.80" font-size="10.2" fill="#000" stroke="#000" stroke-width="0.1" textLength="54.70" lengthAdjust="spacingAndGlyphs" >23 May 2021</text>
<text x="321.30" y="559.80" font-size="10.2" fill="#000" stroke="#000" stroke-width="0.1" textLength="48.80" lengthAdjust="spacingAndGlyphs" >10 Jun 2021</text>
<text x="385.00" y="559.80" font-size="10.2" fill="#000" stroke="#000" stroke-width="0.1" textLength="49.20" lengthAdjust="spacingAndGlyphs" >29 Jun 2021</text>
<text x="449.80" y="559.80" font-size="10.2" fill="#000" stroke="#000" stroke-width="0.1" textLength="45.80" lengthAdjust="spacingAndGlyphs" >18 Jul 2021</text>
<text x="512.90" y="559.80" font-size="10.2" fill="#000" stroke="#000" stroke-width="0.1" textLength="48.10" lengthAdjust="spacingAndGlyphs" >5 Aug 2021</text>
<text x="576.90" y="559.80" font-size="10.2" fill="#000" stroke="#000" stroke-width="0.1" textLength="52.80" lengthAdjust="spacingAndGlyphs" >24 Aug 2021</text>
<text x="641.30" y="559.80" font-size="10.2" fill="#000" stroke="#000" stroke-width="0.1" textLength="51.50" lengthAdjust="spacingAndGlyphs" >12 Sep 2021</text>
<text x="705.40" y="559.80" font-size="10.2" fill="#000" stroke="#000" stroke-width="0.1" textLength="51.40" lengthAdjust="spacingAndGlyphs" >30 Sep 2021</text>
<text x="770.00" y="559.80" font-size="10.2" fill="#000" stroke="#000" stroke-width="0.1" textLength="49.50" lengthAdjust="spacingAndGlyphs" >19 Oct 2021</text>
<text x="832.90" y="559.80" font-size="10.2" fill="#000" stroke="#000" stroke-width="0.1" textLength="48.70" lengthAdjust="spacingAndGlyphs" >7 Nov 2021</text>
<text x="897.50" y="559.80" font-size="10.2" fill="#000" stroke="#000" stroke-width="0.1" textLength="53.10" lengthAdjust="spacingAndGlyphs" >25 Nov 2021</text>
<g shape-rendering="crispEdges">
<rect x="3" y="42" width="223" height="61" fill="#ffffff"/>
<path d="M5 44 H57 V68 H114 V101 H5 Z" fill="url(#gb)"/>
<path d="M172 44 H224 V101 H116 V68 H172 Z" fill="url(#gb)"/>
<path d="M5.5 44.5 H56.5 V68.5 H113.5 V100.5 H5.5 Z" fill="none" stroke="#1818c8" stroke-width="1"/>
<path d="M172.5 44.5 H223.5 V100.5 H116.5 V68.5 H172.5 Z" fill="none" stroke="#1818c8" stroke-width="1"/>
<rect x="9" y="67" width="44" height="1" fill="#1c1cb0"/>
<rect x="9" y="68" width="44" height="1" fill="#8c8cff"/>
<rect x="176" y="67" width="44" height="1" fill="#1c1cb0"/>
<rect x="176" y="68" width="44" height="1" fill="#8c8cff"/>
<rect x="59" y="44" width="111" height="22" fill="#a8a8a8"/>
<rect x="60" y="45" width="109" height="20" fill="#ffffff"/>
<rect x="61" y="46" width="19" height="18" fill="url(#gs)"/>
<rect x="80" y="45" width="1" height="20" fill="#b0b0b0"/>
<rect x="150" y="46" width="19" height="18" fill="url(#gs)"/>
<rect x="149" y="45" width="1" height="20" fill="#b0b0b0"/>
</g>
<path d="M66.8 53 H72.2 L69.5 56 Z" fill="#6a7cc8"/>
<path d="M155.8 56 H161.2 L158.5 53 Z" fill="#6a7cc8"/>
<text x="17.50" y="59.90" font-size="12" fill="#fff" textLength="25.40" lengthAdjust="spacingAndGlyphs" >SELL</text>
<text x="185.70" y="59.80" font-size="12" fill="#fff" textLength="23.30" lengthAdjust="spacingAndGlyphs" >BUY</text>
<text x="121.00" y="58.70" font-size="12" fill="#000" textLength="23.50" lengthAdjust="spacingAndGlyphs" >0.01</text>
<text x="25.00" y="95.80" font-size="12.2" fill="#fff" font-weight="bold" textLength="23.90" lengthAdjust="spacingAndGlyphs" >0.71</text>
<text x="135.00" y="95.80" font-size="12.2" fill="#fff" font-weight="bold" textLength="23.90" lengthAdjust="spacingAndGlyphs" >0.71</text>
<text x="52.20" y="95.60" font-size="35.5" fill="#fff" textLength="35.20" lengthAdjust="spacingAndGlyphs" stroke="url(#gbu)" stroke-width="0.4" paint-order="fill stroke">06</text>
<text x="163.30" y="95.60" font-size="35.5" fill="#fff" textLength="34.90" lengthAdjust="spacingAndGlyphs" stroke="url(#gbu)" stroke-width="0.4" paint-order="fill stroke">08</text>
<text x="92.80" y="79.60" font-size="12" fill="#fff" font-weight="bold" textLength="6.20" lengthAdjust="spacingAndGlyphs" >5</text>
<text x="203.50" y="79.60" font-size="12" fill="#fff" font-weight="bold" textLength="6.30" lengthAdjust="spacingAndGlyphs" >6</text>
<g shape-rendering="crispEdges">
<rect x="0" y="568" width="1205" height="1" fill="#e4e4e4"/>
<rect x="0" y="569" width="1205" height="1" fill="#fafafa"/>
<rect x="0" y="570" width="1205" height="1" fill="#000"/>
<rect x="0" y="571" width="1205" height="1" fill="#ffffff"/>
<rect x="0" y="572" width="1205" height="18" fill="#f0f0f0"/>
<rect x="0" y="590" width="1205" height="1" fill="#fcfcfc"/>
<rect x="0" y="591" width="1205" height="3" fill="#ececec"/>
<rect x="212" y="569" width="106" height="19" fill="#ffffff"/>
<rect x="211" y="570" width="1" height="19" fill="#000"/>
<rect x="318" y="570" width="1" height="19" fill="#000"/>
<rect x="211" y="588" width="108" height="1" fill="#000"/>
<rect x="212" y="589" width="108" height="1" fill="#c8c8c8"/>
<rect x="103" y="573" width="1" height="14" fill="#6e6e6e"/>
<rect x="415" y="573" width="1" height="14" fill="#6e6e6e"/>
<rect x="523" y="573" width="1" height="14" fill="#6e6e6e"/>
<rect x="635" y="573" width="1" height="14" fill="#6e6e6e"/>
<rect x="743" y="573" width="1" height="14" fill="#6e6e6e"/>
<rect x="823" y="573" width="1" height="14" fill="#6e6e6e"/>
<rect x="923" y="573" width="1" height="14" fill="#6e6e6e"/>
<rect x="1019" y="573" width="1" height="14" fill="#6e6e6e"/>
</g>
<text x="14.50" y="584.80" font-size="12.3" fill="#707070" textLength="77.50" lengthAdjust="spacingAndGlyphs" >USDX,Weekly</text>
<text x="114.00" y="584.80" font-size="12.3" fill="#707070" textLength="85.20" lengthAdjust="spacingAndGlyphs" >EURUSD-,Daily</text>
<text x="221.20" y="584.80" font-size="12.3" fill="#000" textLength="86.80" lengthAdjust="spacingAndGlyphs" >AUDUSD-,Daily</text>
<text x="331.30" y="584.80" font-size="12.3" fill="#707070" textLength="72.20" lengthAdjust="spacingAndGlyphs" >USDCHF-,H4</text>
<text x="426.00" y="584.80" font-size="12.3" fill="#707070" textLength="86.00" lengthAdjust="spacingAndGlyphs" >USDCAD-,Daily</text>
<text x="535.00" y="584.80" font-size="12.3" fill="#707070" textLength="88.00" lengthAdjust="spacingAndGlyphs" >USDCNH-,Daily</text>
<text x="645.60" y="584.80" font-size="12.3" fill="#707070" textLength="86.40" lengthAdjust="spacingAndGlyphs" >XAUUSD-,Daily</text>
<text x="754.50" y="584.80" font-size="12.3" fill="#707070" textLength="56.30" lengthAdjust="spacingAndGlyphs" >UKOil-,H1</text>
<text x="834.30" y="584.80" font-size="12.3" fill="#707070" textLength="77.70" lengthAdjust="spacingAndGlyphs" >DJ30-,Weekly</text>
<text x="934.50" y="584.80" font-size="12.3" fill="#707070" textLength="73.90" lengthAdjust="spacingAndGlyphs" >UK100-,Daily</text>
<path d="M1183 576 V582 L1180 579 Z" fill="#808080"/>
<path d="M1198.5 576 V582 L1201.5 579 Z" fill="#808080"/>
</svg></body></html>
